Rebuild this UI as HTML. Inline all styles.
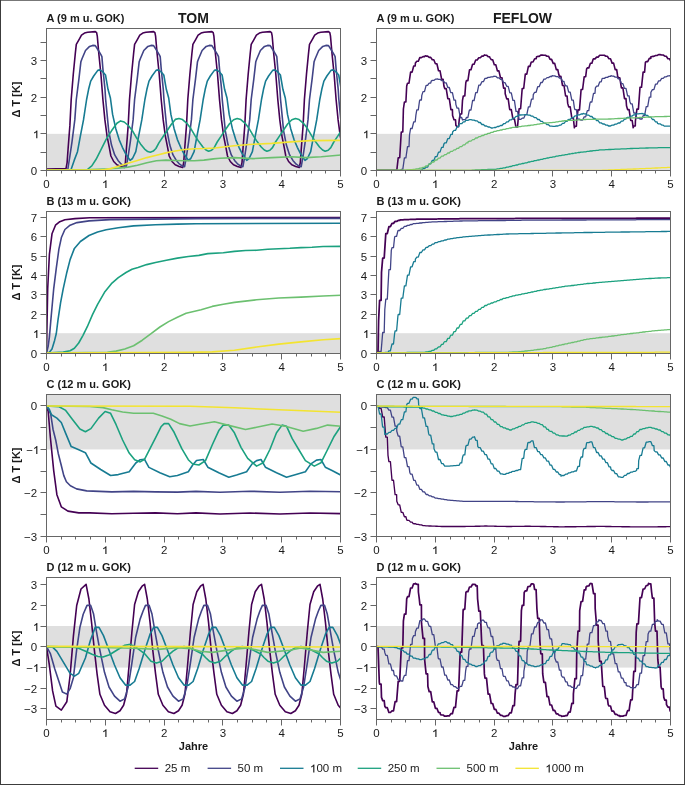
<!DOCTYPE html>
<html><head><meta charset="utf-8"><style>
html,body{margin:0;padding:0;background:#fff;}
body{width:685px;height:785px;overflow:hidden;}
svg{display:block;}

.tl{font-family:"Liberation Sans",sans-serif;font-size:11.5px;fill:#1a1a1a;}
.pl{font-family:"Liberation Sans",sans-serif;font-size:11px;font-weight:bold;fill:#1a1a1a;}
.h1{fill-opacity:0;}
.tt{font-family:"Liberation Sans",sans-serif;font-size:14px;font-weight:bold;fill:#1a1a1a;}
</style></head><body>
<svg width="685" height="785" viewBox="0 0 685 785">
<rect x="0" y="0" width="685" height="785" fill="#fff"/>
<defs>
<filter id="gf" x="0" y="0" width="685" height="785" filterUnits="userSpaceOnUse"><feOffset dx="0" dy="0"/></filter>
<clipPath id="cA0"><rect x="46.5" y="28.5" width="294.0" height="142.0"/></clipPath>
<clipPath id="cA1"><rect x="376.5" y="28.5" width="294.0" height="142.0"/></clipPath>
<clipPath id="cB0"><rect x="46.5" y="211.5" width="294.0" height="142.0"/></clipPath>
<clipPath id="cB1"><rect x="376.5" y="211.5" width="294.0" height="142.0"/></clipPath>
<clipPath id="cC0"><rect x="46.5" y="394.5" width="294.0" height="142.0"/></clipPath>
<clipPath id="cC1"><rect x="376.5" y="394.5" width="294.0" height="142.0"/></clipPath>
<clipPath id="cD0"><rect x="46.5" y="577.5" width="294.0" height="142.0"/></clipPath>
<clipPath id="cD1"><rect x="376.5" y="577.5" width="294.0" height="142.0"/></clipPath>
</defs>
<rect x="46.5" y="133.83" width="294.0" height="36.67" fill="#dfdfdf"/>
<rect x="376.5" y="133.83" width="294.0" height="36.67" fill="#dfdfdf"/>
<rect x="46.5" y="333.20" width="294.0" height="20.30" fill="#dfdfdf"/>
<rect x="376.5" y="333.20" width="294.0" height="20.30" fill="#dfdfdf"/>
<rect x="46.5" y="394.50" width="294.0" height="54.93" fill="#dfdfdf"/>
<rect x="376.5" y="394.50" width="294.0" height="54.93" fill="#dfdfdf"/>
<rect x="46.5" y="626.00" width="294.0" height="41.60" fill="#dfdfdf"/>
<rect x="376.5" y="626.00" width="294.0" height="41.60" fill="#dfdfdf"/>
<polyline clip-path="url(#cA0)" points="46.5,169.0 66.0,168.6 67.1,162.6 68.2,147.3 69.9,125.4 71.2,99.5 73.3,74.0 75.3,53.5 76.3,44.3 78.9,39.8 81.5,35.2 84.5,33.1 87.6,32.3 95.3,31.6 96.6,32.6 97.3,36.2 98.8,53.5 100.9,74.0 102.9,99.5 104.9,119.9 107.1,136.3 109.3,147.3 110.9,156.0 113.7,161.5 116.9,164.8 120.8,166.4 123.6,167.3 124.3,167.5 125.4,162.6 126.5,147.3 128.2,125.4 129.5,99.5 131.6,74.0 133.6,53.5 134.6,44.3 137.2,39.8 139.8,35.2 142.8,33.1 145.9,32.3 153.6,31.6 154.9,32.6 155.6,36.2 157.1,53.5 159.2,74.0 161.2,99.5 163.2,119.9 165.4,136.3 167.6,147.3 169.2,156.0 172.0,161.5 175.2,164.8 179.1,166.4 181.9,167.3 182.6,167.5 183.7,162.6 184.8,147.3 186.5,125.4 187.8,99.5 189.9,74.0 191.9,53.5 192.9,44.3 195.5,39.8 198.1,35.2 201.1,33.1 204.2,32.3 211.9,31.6 213.2,32.6 213.9,36.2 215.4,53.5 217.5,74.0 219.5,99.5 221.5,119.9 223.7,136.3 225.9,147.3 227.5,156.0 230.3,161.5 233.5,164.8 237.4,166.4 240.2,167.3 240.9,167.5 242.0,162.6 243.1,147.3 244.8,125.4 246.1,99.5 248.2,74.0 250.2,53.5 251.2,44.3 253.8,39.8 256.4,35.2 259.4,33.1 262.5,32.3 270.2,31.6 271.5,32.6 272.2,36.2 273.7,53.5 275.8,74.0 277.8,99.5 279.8,119.9 282.0,136.3 284.2,147.3 285.8,156.0 288.6,161.5 291.8,164.8 295.7,166.4 298.5,167.3 299.2,167.5 300.3,162.6 301.4,147.3 303.1,125.4 304.4,99.5 306.5,74.0 308.5,53.5 309.5,44.3 312.1,39.8 314.7,35.2 317.7,33.1 320.8,32.3 328.5,31.6 329.8,32.6 330.5,36.2 332.0,53.5 334.1,74.0 336.1,99.5 338.1,119.9 340.3,136.3 342.5,147.3 344.1,156.0 346.9,161.5" fill="none" stroke="#440154" stroke-width="1.6" stroke-linejoin="round" stroke-linecap="round"/>
<polyline clip-path="url(#cA0)" points="46.5,170.0 67.7,170.0 69.9,156.0 72.0,141.8 74.8,119.9 76.3,99.5 78.9,79.1 80.9,61.7 82.0,58.7 85.5,50.5 89.6,46.4 92.7,45.4 95.3,45.6 97.8,49.5 100.9,54.6 101.9,56.6 102.9,68.9 105.0,89.3 105.6,99.0 107.1,114.4 108.7,130.8 111.5,145.1 114.7,154.9 118.0,160.4 121.3,164.2 124.6,166.4 126.3,166.6 126.3,166.6 128.2,156.0 130.3,141.8 133.1,119.9 134.6,99.5 137.2,79.1 139.2,61.7 140.3,58.7 143.8,50.5 147.9,46.4 151.0,45.4 153.6,45.6 156.1,49.5 159.2,54.6 160.2,56.6 161.2,68.9 163.3,89.3 163.9,99.0 165.4,114.4 167.0,130.8 169.8,145.1 173.0,154.9 176.3,160.4 179.6,164.2 182.9,166.4 184.6,166.6 184.6,166.6 186.5,156.0 188.6,141.8 191.4,119.9 192.9,99.5 195.5,79.1 197.5,61.7 198.6,58.7 202.1,50.5 206.2,46.4 209.3,45.4 211.9,45.6 214.4,49.5 217.5,54.6 218.5,56.6 219.5,68.9 221.6,89.3 222.2,99.0 223.7,114.4 225.3,130.8 228.1,145.1 231.3,154.9 234.6,160.4 237.9,164.2 241.2,166.4 242.9,166.6 242.9,166.6 244.8,156.0 246.9,141.8 249.7,119.9 251.2,99.5 253.8,79.1 255.8,61.7 256.9,58.7 260.4,50.5 264.5,46.4 267.6,45.4 270.2,45.6 272.7,49.5 275.8,54.6 276.8,56.6 277.8,68.9 279.9,89.3 280.5,99.0 282.0,114.4 283.6,130.8 286.4,145.1 289.6,154.9 292.9,160.4 296.2,164.2 299.5,166.4 301.2,166.6 301.2,166.6 303.1,156.0 305.2,141.8 308.0,119.9 309.5,99.5 312.1,79.1 314.1,61.7 315.2,58.7 318.7,50.5 322.8,46.4 325.9,45.4 328.5,45.6 331.0,49.5 334.1,54.6 335.1,56.6 336.1,68.9 338.2,89.3 338.8,99.0 340.3,114.4 341.9,130.8 344.7,145.1 347.9,154.9" fill="none" stroke="#414487" stroke-width="1.6" stroke-linejoin="round" stroke-linecap="round"/>
<polyline clip-path="url(#cA0)" points="46.5,170.0 70.9,170.0 74.2,160.4 77.5,151.7 80.3,136.3 83.5,119.9 86.6,99.5 88.6,89.3 90.7,81.1 93.7,76.0 97.8,70.4 99.9,69.9 102.9,71.9 105.5,75.0 108.0,89.3 110.4,98.0 112.6,114.4 115.8,128.7 119.1,139.6 122.4,147.3 125.7,153.8 130.1,160.4 130.1,160.4 132.5,158.5 135.8,151.7 138.6,136.3 141.8,119.9 144.9,99.5 146.9,89.3 149.0,81.1 152.0,76.0 156.1,70.4 158.2,69.9 161.2,71.9 163.8,75.0 166.3,89.3 168.7,98.0 170.9,114.4 174.1,128.7 177.4,139.6 180.7,147.3 184.0,153.8 188.4,160.4 188.4,160.4 190.8,158.5 194.1,151.7 196.9,136.3 200.1,119.9 203.2,99.5 205.2,89.3 207.3,81.1 210.3,76.0 214.4,70.4 216.5,69.9 219.5,71.9 222.1,75.0 224.6,89.3 227.0,98.0 229.2,114.4 232.4,128.7 235.7,139.6 239.0,147.3 242.3,153.8 246.7,160.4 246.7,160.4 249.1,158.5 252.4,151.7 255.2,136.3 258.4,119.9 261.5,99.5 263.5,89.3 265.6,81.1 268.6,76.0 272.7,70.4 274.8,69.9 277.8,71.9 280.4,75.0 282.9,89.3 285.3,98.0 287.5,114.4 290.7,128.7 294.0,139.6 297.3,147.3 300.6,153.8 305.0,160.4 305.0,160.4 307.4,158.5 310.7,151.7 313.5,136.3 316.7,119.9 319.8,99.5 321.8,89.3 323.9,81.1 326.9,76.0 331.0,70.4 333.1,69.9 336.1,71.9 338.7,75.0 341.2,89.3 343.6,98.0 345.8,114.4 349.0,128.7" fill="none" stroke="#177b92" stroke-width="1.6" stroke-linejoin="round" stroke-linecap="round"/>
<polyline clip-path="url(#cA0)" points="46.5,170.0 84.0,170.0 87.4,169.5 91.8,165.9 96.1,159.3 100.5,150.6 106.0,139.6 111.5,130.8 116.9,123.2 120.6,120.9 124.2,122.0 128.3,125.5 132.4,130.7 136.5,137.8 140.5,143.9 144.6,149.1 147.7,151.6 150.3,152.3 153.3,151.1 155.9,148.5 158.9,142.9 163.0,136.8 167.1,130.7 171.2,124.5 175.3,119.4 178.9,118.5 182.5,119.6 186.6,123.1 190.7,128.3 194.8,135.4 198.8,141.6 202.9,147.0 206.0,150.0 208.6,151.2 211.6,150.2 214.2,147.6 217.2,142.0 221.3,135.9 225.4,129.8 229.5,123.8 233.6,119.8 237.2,118.5 240.8,119.6 244.9,123.1 249.0,128.3 253.1,135.4 257.1,141.6 261.2,147.0 264.3,150.0 266.9,151.2 269.9,150.2 272.5,147.6 275.5,142.0 279.6,135.9 283.7,129.8 287.8,123.8 291.9,119.8 295.5,118.5 299.1,119.6 303.2,123.1 307.3,128.3 311.4,135.4 315.4,141.6 319.5,147.0 322.6,150.0 325.2,151.2 328.2,150.2 330.8,147.6 333.8,142.0 337.9,135.9 342.0,129.8 346.1,123.8 350.2,119.8 353.8,118.5 357.4,119.6 361.5,123.1 365.6,128.3 369.7,135.4 373.7,141.6 377.8,147.0 380.9,150.0 383.5,151.2 386.5,150.2 389.1,147.6 392.1,142.0 396.2,135.9 400.3,129.8 404.4,123.8 408.5,119.8" fill="none" stroke="#1ba17f" stroke-width="1.6" stroke-linejoin="round" stroke-linecap="round"/>
<polyline clip-path="url(#cA0)" points="46.5,170.0 90.0,169.5 109.0,168.8 118.5,168.1 128.0,167.1 137.4,165.2 146.9,162.7 156.4,160.8 165.9,160.1 175.4,160.5 184.9,160.8 194.4,160.8 203.9,160.1 213.4,158.9 220.0,158.2 234.0,157.6 253.0,158.6 271.9,157.6 290.9,156.7 306.1,157.6 321.3,156.7 341.0,155.0" fill="none" stroke="#6cc070" stroke-width="1.6" stroke-linejoin="round" stroke-linecap="round"/>
<polyline clip-path="url(#cA0)" points="46.5,170.0 100.0,170.0 105.2,169.6 110.9,168.6 118.5,166.2 128.0,163.3 137.4,160.5 146.9,157.6 156.4,155.2 165.9,152.9 175.4,151.0 184.9,149.5 194.4,148.7 203.9,148.5 215.0,148.0 234.0,145.7 253.0,144.3 271.9,143.4 290.9,141.9 309.9,140.6 341.0,140.4" fill="none" stroke="#f3e430" stroke-width="1.6" stroke-linejoin="round" stroke-linecap="round"/>
<polyline clip-path="url(#cA1)" points="376.5,170.3 378.0,170.3 379.6,170.3 381.1,170.3 382.7,170.3 384.2,170.3 385.8,170.3 387.3,170.3 388.9,170.3 390.4,170.3 392.0,170.3 393.5,170.3 395.1,170.3 396.6,170.3 396.8,170.3 398.2,157.8 399.7,157.8 401.2,133.1 401.3,132.0 402.8,132.0 403.4,109.0 404.4,102.0 405.9,102.0 406.7,86.0 407.5,83.2 409.0,83.2 410.6,72.1 412.1,72.1 413.7,66.0 415.2,66.0 415.4,63.0 416.8,61.3 418.3,61.3 419.8,57.6 419.9,57.6 421.4,57.6 423.0,56.6 424.5,56.6 425.3,55.8 426.1,56.1 427.6,56.1 429.2,57.4 430.7,57.4 432.3,59.8 433.8,59.8 435.1,63.0 435.4,63.7 436.9,63.7 438.5,70.7 440.0,70.7 441.6,79.2 443.1,79.2 443.9,86.0 444.7,88.6 446.2,88.6 447.8,98.7 449.3,98.7 450.9,109.6 452.4,109.6 452.6,115.6 454.0,119.8 455.5,119.8 455.9,125.4 457.1,126.6 458.6,126.6 459.2,120.0 460.2,114.0 461.7,114.0 462.5,100.3 463.3,96.0 464.8,96.0 465.8,82.7 466.4,80.6 467.9,80.6 469.5,69.8 471.0,69.8 472.6,64.2 474.1,64.2 475.7,60.0 477.2,60.0 478.8,57.7 480.3,57.7 481.9,56.1 483.4,56.1 484.4,54.9 485.0,55.2 486.5,55.2 488.1,56.7 489.6,56.7 489.9,57.6 491.2,59.7 492.7,59.7 494.3,64.7 495.8,64.7 497.4,70.9 498.9,70.9 500.5,77.7 502.0,77.7 503.6,88.1 505.1,88.1 505.2,93.7 506.7,98.9 508.2,98.9 509.6,109.0 509.8,109.6 511.3,109.6 512.9,118.9 514.4,118.9 516.0,127.3 517.5,127.3 519.1,108.7 520.6,108.7 522.2,88.5 523.7,88.5 525.3,74.1 526.8,74.1 528.4,66.4 529.9,66.4 531.1,62.4 531.5,62.0 533.0,62.0 534.6,58.8 536.1,58.8 536.6,56.8 537.7,56.4 539.2,56.4 540.8,55.1 542.3,55.1 543.9,55.2 545.4,55.2 547.0,56.2 548.5,56.2 550.1,59.4 551.6,59.4 553.2,63.4 554.7,63.4 556.3,69.6 557.8,69.6 558.8,74.6 559.4,76.4 560.9,76.4 562.5,85.5 564.0,85.5 565.6,96.0 567.1,96.0 567.7,103.4 568.7,106.9 570.2,106.9 571.8,117.9 573.3,117.9 574.4,127.8 574.9,126.3 576.4,126.3 576.6,121.2 578.0,109.9 579.5,109.9 581.1,89.5 582.6,89.5 584.2,76.7 585.7,76.7 586.6,69.0 587.3,67.9 588.8,67.9 590.4,63.3 591.9,63.3 593.2,59.1 593.5,58.9 595.0,58.9 596.6,57.1 598.1,57.1 599.7,55.3 601.2,55.3 602.8,55.2 604.3,55.2 605.9,56.2 607.4,56.2 607.6,56.8 609.0,58.8 610.5,58.8 612.1,63.1 613.6,63.1 615.2,69.6 616.7,69.6 617.6,75.7 618.3,77.9 619.8,77.9 621.4,87.9 622.9,87.9 624.5,98.6 626.0,98.6 626.5,105.7 627.6,109.6 629.1,109.6 630.7,120.5 632.2,120.5 633.2,127.8 633.8,126.0 635.3,126.0 635.4,121.2 636.9,109.1 638.4,109.1 640.0,87.3 641.5,87.3 643.1,72.1 644.6,72.1 645.4,62.4 646.2,61.6 647.7,61.6 649.3,58.4 650.8,58.4 650.9,56.8 652.4,56.4 653.9,56.4 655.5,55.5 657.0,55.5 658.6,54.6 660.1,54.6 661.7,55.0 663.2,55.0 664.8,56.2 666.3,56.2 667.9,58.7 669.4,58.7 671.0,61.5 671.0,61.5" fill="none" stroke="#440154" stroke-width="1.6" stroke-linejoin="round" stroke-linecap="round"/>
<polyline clip-path="url(#cA1)" points="376.5,170.3 378.0,170.3 379.6,170.3 381.1,170.3 382.7,170.3 384.2,170.3 385.8,170.3 387.3,170.3 388.9,170.3 390.4,170.3 392.0,170.3 393.5,170.3 395.1,170.3 396.6,170.3 398.2,170.3 399.7,170.3 400.5,170.3 401.3,169.4 402.8,169.4 404.4,157.9 405.9,157.9 407.5,146.7 407.5,146.7 409.0,146.7 409.5,135.0 410.6,128.5 412.1,128.5 413.7,121.8 415.2,121.8 415.9,115.1 416.8,109.8 418.3,109.8 419.5,101.0 419.9,100.0 421.4,100.0 421.8,95.4 423.0,91.6 424.5,91.6 426.1,85.3 427.6,85.3 428.9,83.4 429.2,83.1 430.7,83.1 431.2,81.1 432.3,80.4 433.8,80.4 435.4,79.2 436.9,79.2 437.3,78.8 438.5,79.3 440.0,79.3 441.6,80.6 443.1,80.6 443.9,81.6 444.7,82.8 446.2,82.8 447.8,87.5 449.3,87.5 450.4,91.5 450.9,92.7 452.4,92.7 454.0,100.1 455.5,100.1 455.9,104.6 457.1,108.2 458.6,108.2 460.2,117.5 461.7,117.5 462.5,120.0 463.3,119.7 464.8,119.7 465.8,118.9 466.4,117.5 467.9,117.5 469.1,111.2 469.5,110.0 471.0,110.0 472.6,100.5 474.1,100.5 475.7,92.6 477.2,92.6 478.8,85.1 480.3,85.1 481.9,81.7 483.4,81.7 485.0,78.4 486.5,78.4 488.1,77.4 489.6,77.4 491.2,76.8 492.7,76.8 494.2,76.2 494.3,76.3 495.8,76.3 497.4,77.8 498.9,77.8 500.5,79.4 502.0,79.4 503.6,82.7 505.1,82.7 506.7,86.3 508.2,86.3 509.8,92.9 511.3,92.9 512.9,100.3 512.9,100.3 514.4,100.3 516.0,111.3 517.5,111.3 519.1,119.4 520.6,119.4 522.2,118.2 523.7,118.2 524.4,116.8 525.3,114.6 526.8,114.6 528.4,106.9 529.9,106.9 531.5,99.1 533.0,99.1 533.3,94.6 534.6,92.3 536.1,92.3 537.7,86.7 539.2,86.7 540.8,82.5 542.3,82.5 543.9,79.1 545.4,79.1 547.0,77.6 548.5,77.6 550.1,76.5 551.6,76.5 552.2,75.7 553.2,75.9 554.7,75.9 556.3,76.7 557.8,76.7 558.8,77.3 559.4,78.0 560.9,78.0 562.5,81.4 564.0,81.4 564.4,83.5 565.6,85.9 567.1,85.9 568.7,92.2 570.2,92.2 571.8,100.2 573.3,100.2 574.4,107.9 574.9,109.6 576.4,109.6 577.7,119.0 578.0,119.1 579.5,119.1 581.0,120.1 581.1,120.0 582.6,120.0 584.2,116.9 585.7,116.9 587.3,110.6 588.8,110.6 589.9,103.4 590.4,102.0 591.9,102.0 593.5,93.3 595.0,93.3 595.4,87.9 596.6,86.2 598.1,86.2 599.7,81.9 601.2,81.9 602.1,78.6 602.8,78.4 604.3,78.4 605.9,77.4 607.4,77.4 609.0,76.4 610.5,76.4 611.0,75.7 612.1,76.1 613.6,76.1 615.2,77.1 616.7,77.1 617.6,77.9 618.3,78.9 619.8,78.9 621.4,83.6 622.9,83.6 624.3,87.9 624.5,88.4 626.0,88.4 627.6,95.9 629.1,95.9 629.8,101.2 630.7,103.9 632.2,103.9 633.8,113.0 635.3,113.0 636.9,118.0 638.4,118.0 640.0,119.0 641.5,119.0 642.0,119.0 643.1,115.7 644.6,115.7 646.2,106.6 647.7,106.6 649.3,97.2 650.8,97.2 650.9,92.3 652.4,89.6 653.9,89.6 655.5,84.2 657.0,84.2 658.6,80.8 660.1,80.8 661.7,78.4 663.2,78.4 664.8,76.8 666.3,76.8 667.9,75.9 669.4,75.9 671.0,75.0 671.0,75.0" fill="none" stroke="#414487" stroke-width="1.3" stroke-linejoin="round" stroke-linecap="round"/>
<polyline clip-path="url(#cA1)" points="376.5,170.3 378.0,170.3 379.6,170.3 381.1,170.3 382.7,170.3 384.2,170.3 385.8,170.3 387.3,170.3 388.9,170.3 390.4,170.3 392.0,170.3 393.5,170.3 395.1,170.3 396.6,170.3 398.2,170.3 399.7,170.3 401.3,170.3 402.8,170.3 404.4,170.3 405.9,170.3 407.5,170.3 409.0,170.3 410.6,170.3 412.1,170.3 413.7,170.3 415.2,170.3 416.8,170.3 418.3,170.3 419.8,170.3 419.9,170.2 421.4,170.2 423.0,168.7 424.5,168.7 426.1,167.1 427.6,167.1 429.2,163.8 430.7,163.8 432.3,160.4 433.8,160.4 435.1,157.2 435.4,156.7 436.9,156.7 438.5,152.1 440.0,152.1 441.6,147.4 443.1,147.4 443.9,144.0 444.7,142.9 446.2,142.9 447.8,138.6 449.3,138.6 450.9,134.3 452.4,134.3 452.6,132.0 454.0,130.4 455.5,130.4 457.1,126.7 458.6,126.7 459.2,124.3 460.2,123.7 461.7,123.7 463.3,121.9 464.8,121.9 465.8,120.4 466.4,120.3 467.9,120.3 469.5,119.6 471.0,119.6 472.6,120.1 474.1,120.1 475.7,120.9 477.2,120.9 478.8,122.5 480.3,122.5 481.9,124.5 483.4,124.5 485.0,126.0 486.5,126.0 488.1,127.0 489.6,127.0 491.2,128.0 492.7,128.0 494.3,127.5 495.8,127.5 497.4,126.5 498.9,126.5 500.5,125.5 502.0,125.5 503.6,123.7 505.1,123.7 506.7,121.8 508.2,121.8 509.6,120.0 509.8,119.9 511.3,119.9 512.9,118.1 514.4,118.1 516.0,116.4 517.5,116.4 518.3,115.1 519.1,115.0 520.6,115.0 522.2,114.8 523.7,114.8 525.3,114.6 526.8,114.6 528.4,115.1 529.9,115.1 531.5,116.2 533.0,116.2 533.3,116.8 534.6,117.6 536.1,117.6 537.7,119.5 539.2,119.5 540.8,121.4 542.3,121.4 543.9,123.1 545.4,123.1 547.0,124.7 548.5,124.7 550.1,126.2 551.6,126.2 553.2,126.4 554.7,126.4 556.3,126.0 557.8,126.0 558.8,125.6 559.4,125.2 560.9,125.2 562.5,123.3 564.0,123.3 565.6,121.4 567.1,121.4 567.7,120.1 568.7,119.5 570.2,119.5 571.8,117.7 573.3,117.7 574.9,115.9 576.4,115.9 578.0,114.9 579.5,114.9 581.1,114.0 582.6,114.0 583.2,113.4 584.2,113.8 585.7,113.8 587.3,115.2 588.8,115.2 590.4,116.5 591.9,116.5 593.5,118.5 595.0,118.5 596.6,120.7 598.1,120.7 599.7,122.9 601.2,122.9 602.8,124.0 604.3,124.0 605.9,125.1 607.4,125.1 608.8,126.1 609.0,126.0 610.5,126.0 612.1,125.1 613.6,125.1 615.2,124.1 616.7,124.1 617.6,123.4 618.3,123.0 619.8,123.0 621.4,121.1 622.9,121.1 624.5,119.1 626.0,119.1 626.5,117.9 627.6,117.4 629.1,117.4 630.7,116.1 632.2,116.1 633.8,114.8 635.3,114.8 635.4,114.1 636.9,113.9 638.4,113.9 640.0,113.6 641.5,113.6 642.0,113.4 643.1,114.0 644.6,114.0 646.2,115.5 647.7,115.5 648.7,116.8 649.3,117.2 650.8,117.2 652.4,119.5 653.9,119.5 655.5,121.8 657.0,121.8 657.6,123.4 658.6,123.8 660.1,123.8 661.7,125.1 663.2,125.1 664.2,126.1 664.8,126.1 666.3,126.1 667.9,126.1 669.4,126.1 671.0,126.1 671.0,126.1" fill="none" stroke="#177b92" stroke-width="1.3" stroke-linejoin="round" stroke-linecap="round"/>
<polyline clip-path="url(#cA1)" points="376.5,170.3 378.0,170.3 379.6,170.3 381.1,170.3 382.7,170.3 384.2,170.3 385.8,170.3 387.3,170.3 388.9,170.3 390.4,170.3 392.0,170.3 393.5,170.3 395.1,170.3 396.6,170.3 398.2,170.3 399.7,170.3 401.3,170.3 402.8,170.3 404.4,170.3 405.9,170.3 407.5,170.3 409.0,170.3 410.6,170.3 412.1,170.3 413.7,170.3 415.2,170.3 416.8,170.3 418.3,170.3 419.9,170.3 421.4,170.3 423.0,170.3 424.5,170.3 426.1,170.3 427.6,170.3 429.2,170.3 430.7,170.3 432.3,170.3 433.8,170.3 435.4,170.3 436.9,170.3 438.5,170.3 440.0,170.3 441.6,170.3 443.1,170.3 444.7,170.3 446.2,170.3 447.8,170.3 449.3,170.3 450.9,170.3 452.4,170.3 454.0,170.3 455.5,170.3 457.1,170.3 458.6,170.3 460.2,170.3 461.7,170.3 463.3,170.3 464.8,170.3 466.4,170.3 467.9,170.3 469.5,170.3 471.0,170.3 472.6,170.2 474.1,170.2 475.7,170.0 477.2,170.0 478.8,169.8 480.3,169.8 481.9,169.7 483.4,169.7 485.0,169.6 486.5,169.6 488.1,169.5 489.6,169.5 491.2,169.4 492.7,169.4 494.3,169.3 495.8,169.3 497.4,168.9 498.9,168.9 500.5,168.4 502.0,168.4 503.6,167.9 505.1,167.9 506.7,167.2 508.2,167.2 509.8,166.5 511.3,166.5 512.9,165.7 514.4,165.7 516.0,165.0 517.5,165.0 519.1,164.2 520.6,164.2 522.2,163.5 523.7,163.5 525.3,162.8 526.8,162.8 528.4,162.0 529.9,162.0 531.5,161.3 533.0,161.3 534.6,160.6 536.1,160.6 537.7,160.0 539.2,160.0 540.8,159.3 542.3,159.3 543.9,158.7 545.4,158.7 547.0,158.0 548.5,158.0 550.1,157.4 551.6,157.4 553.2,156.8 554.7,156.8 556.3,156.2 557.8,156.2 559.4,155.7 560.9,155.7 562.5,155.1 564.0,155.1 565.6,154.6 567.1,154.6 568.7,154.0 570.2,154.0 571.8,153.5 573.3,153.5 574.9,153.0 576.4,153.0 578.0,152.5 579.5,152.5 581.1,152.1 582.6,152.1 584.2,151.8 585.7,151.8 587.3,151.4 588.8,151.4 590.4,151.0 591.9,151.0 593.5,150.7 595.0,150.7 596.6,150.3 598.1,150.3 599.7,149.9 601.2,149.9 602.8,149.8 604.3,149.8 605.9,149.6 607.4,149.6 609.0,149.5 610.5,149.5 612.1,149.4 613.6,149.4 615.2,149.2 616.7,149.2 618.3,149.1 619.8,149.1 621.4,148.9 622.9,148.9 624.5,148.8 626.0,148.8 627.6,148.6 629.1,148.6 630.7,148.5 632.2,148.5 633.8,148.4 635.3,148.4 636.9,148.3 638.4,148.3 640.0,148.2 641.5,148.2 643.1,148.1 644.6,148.1 646.2,148.0 647.7,148.0 649.3,147.9 650.8,147.9 652.4,147.8 653.9,147.8 655.5,147.8 657.0,147.8 658.6,147.7 660.1,147.7 661.7,147.7 663.2,147.7 664.8,147.7 666.3,147.7 667.9,147.6 669.4,147.6 671.0,147.6 671.0,147.6" fill="none" stroke="#1ba17f" stroke-width="1.3" stroke-linejoin="round" stroke-linecap="round"/>
<polyline clip-path="url(#cA1)" points="376.5,170.3 378.0,170.3 379.6,170.3 381.1,170.3 382.7,170.3 384.2,170.3 385.8,170.3 387.3,170.3 388.9,170.3 390.4,170.3 392.0,170.3 393.5,170.3 395.1,170.3 396.6,170.3 398.2,170.3 399.7,170.3 401.3,170.3 402.8,170.3 404.4,170.3 405.9,170.3 407.5,170.0 409.0,170.0 410.6,169.7 412.1,169.7 413.7,169.4 415.2,169.4 415.4,169.2 416.8,168.8 418.3,168.8 419.9,168.1 421.4,168.1 423.0,167.3 424.5,167.3 426.1,165.8 427.6,165.8 429.2,163.9 430.7,163.9 432.3,162.0 433.8,162.0 435.4,160.0 436.9,160.0 438.5,158.1 440.0,158.1 441.6,156.2 443.1,156.2 444.7,154.6 446.2,154.6 447.8,153.0 449.3,153.0 450.4,151.7 450.9,151.4 452.4,151.4 454.0,149.9 455.5,149.9 457.1,148.3 458.6,148.3 459.2,147.3 460.2,146.7 461.7,146.7 463.3,144.8 464.8,144.8 466.4,142.9 467.9,142.9 468.0,141.9 469.5,141.1 471.0,141.1 472.6,139.6 474.1,139.6 475.7,138.0 477.2,138.0 478.8,136.7 480.3,136.7 481.9,135.5 483.4,135.5 485.0,134.4 486.5,134.4 488.1,133.4 489.6,133.4 491.2,132.4 492.7,132.4 494.2,131.4 494.3,131.4 495.8,131.4 497.4,130.7 498.9,130.7 500.5,130.0 502.0,130.0 503.0,129.4 503.6,129.3 505.1,129.3 506.7,128.6 508.2,128.6 509.8,128.0 511.3,128.0 511.8,127.6 512.9,127.4 514.4,127.4 516.0,127.0 517.5,127.0 519.1,126.6 520.6,126.6 522.2,126.2 523.7,126.2 525.3,125.9 526.8,125.9 528.4,125.5 529.9,125.5 531.1,125.2 531.5,125.1 533.0,125.1 534.6,124.6 536.1,124.6 537.7,124.1 539.2,124.1 540.8,123.6 542.3,123.6 543.9,123.2 545.4,123.2 547.0,122.9 548.5,122.9 550.1,122.6 551.6,122.6 553.2,122.3 554.7,122.3 556.3,121.9 557.8,121.9 559.4,121.4 560.9,121.4 562.5,121.0 564.0,121.0 564.4,120.7 565.6,120.6 567.1,120.6 568.7,120.4 570.2,120.4 571.8,120.3 573.3,120.3 574.9,120.1 576.4,120.1 578.0,119.9 579.5,119.9 581.1,119.7 582.6,119.7 584.2,119.5 585.7,119.5 586.6,119.4 587.3,119.4 588.8,119.4 590.4,119.3 591.9,119.3 593.5,119.3 595.0,119.3 596.6,119.2 598.1,119.2 599.7,119.2 601.2,119.2 602.8,119.1 604.3,119.1 605.9,119.1 607.4,119.1 608.8,119.0 609.0,119.0 610.5,119.0 612.1,118.8 613.6,118.8 615.2,118.7 616.7,118.7 618.3,118.5 619.8,118.5 621.4,118.4 622.9,118.4 624.5,118.2 626.0,118.2 627.6,118.1 629.1,118.1 630.7,117.9 632.2,117.9 633.8,117.8 635.3,117.8 636.9,117.6 638.4,117.6 640.0,117.4 641.5,117.4 643.1,117.3 644.6,117.3 646.2,117.1 647.7,117.1 649.3,117.0 650.8,117.0 652.4,116.8 653.9,116.8 655.5,116.7 657.0,116.7 658.6,116.6 660.1,116.6 661.7,116.6 663.2,116.6 664.8,116.5 666.3,116.5 667.9,116.4 669.4,116.4 671.0,116.3 671.0,116.3" fill="none" stroke="#6cc070" stroke-width="1.3" stroke-linejoin="round" stroke-linecap="round"/>
<polyline clip-path="url(#cA1)" points="376.5,170.3 378.0,170.3 379.6,170.3 381.1,170.3 382.7,170.3 384.2,170.3 385.8,170.3 387.3,170.3 388.9,170.3 390.4,170.3 392.0,170.3 393.5,170.3 395.1,170.3 396.6,170.3 398.2,170.3 399.7,170.3 401.3,170.3 402.8,170.3 404.4,170.3 405.9,170.3 407.5,170.3 409.0,170.3 410.6,170.3 412.1,170.3 413.7,170.3 415.2,170.3 416.8,170.3 418.3,170.3 419.9,170.3 421.4,170.3 423.0,170.3 424.5,170.3 426.1,170.3 427.6,170.3 429.2,170.3 430.7,170.3 432.3,170.3 433.8,170.3 435.4,170.3 436.9,170.3 438.5,170.3 440.0,170.3 441.6,170.3 443.1,170.3 444.7,170.3 446.2,170.3 447.8,170.3 449.3,170.3 450.9,170.3 452.4,170.3 454.0,170.3 455.5,170.3 457.1,170.3 458.6,170.3 460.2,170.3 461.7,170.3 463.3,170.3 464.8,170.3 466.4,170.3 467.9,170.3 469.5,170.3 471.0,170.3 472.6,170.3 474.1,170.3 475.7,170.3 477.2,170.3 478.8,170.3 480.3,170.3 481.9,170.3 483.4,170.3 485.0,170.3 486.5,170.3 488.1,170.3 489.6,170.3 491.2,170.3 492.7,170.3 494.3,170.3 495.8,170.3 497.4,170.3 498.9,170.3 500.5,170.3 502.0,170.3 503.6,170.3 505.1,170.3 506.7,170.3 508.2,170.3 509.8,170.3 511.3,170.3 512.9,170.3 514.4,170.3 516.0,170.3 517.5,170.3 519.1,170.3 520.6,170.3 522.2,170.3 523.7,170.3 525.3,170.3 526.8,170.3 528.4,170.3 529.9,170.3 531.5,170.3 533.0,170.3 534.6,170.3 536.1,170.3 537.7,170.3 539.2,170.3 540.8,170.3 542.3,170.3 543.9,170.3 545.4,170.3 547.0,170.3 548.5,170.3 550.1,170.3 551.6,170.3 553.2,170.3 554.7,170.3 556.3,170.3 557.8,170.3 559.4,170.3 560.9,170.3 562.5,170.3 564.0,170.3 565.6,170.3 567.1,170.3 568.7,170.3 570.2,170.3 571.8,170.3 573.3,170.3 574.9,170.3 576.4,170.3 578.0,170.3 579.5,170.3 581.1,170.3 582.6,170.3 584.2,170.3 585.7,170.3 587.3,170.3 588.8,170.3 590.4,170.3 591.9,170.3 593.5,170.3 595.0,170.3 596.6,170.3 598.1,170.3 599.7,170.3 601.2,170.3 602.8,170.2 604.3,170.2 605.9,170.1 607.4,170.1 609.0,170.0 610.5,170.0 612.1,169.8 613.6,169.8 615.2,169.7 616.7,169.7 618.3,169.6 619.8,169.6 621.4,169.5 622.9,169.5 624.5,169.3 626.0,169.3 627.6,169.2 629.1,169.2 630.7,169.1 632.2,169.1 633.8,169.0 635.3,169.0 636.9,168.8 638.4,168.8 640.0,168.7 641.5,168.7 643.1,168.6 644.6,168.6 646.2,168.4 647.7,168.4 649.3,168.3 650.8,168.3 652.4,168.1 653.9,168.1 655.5,168.0 657.0,168.0 658.6,167.9 660.1,167.9 661.7,167.7 663.2,167.7 664.8,167.6 666.3,167.6 667.9,167.4 669.4,167.4 671.0,167.3 671.0,167.3" fill="none" stroke="#f3e430" stroke-width="1.3" stroke-linejoin="round" stroke-linecap="round"/>
<polyline clip-path="url(#cB0)" points="46.5,353.0 46.9,330.0 47.7,288.8 49.4,254.4 52.0,233.8 55.5,225.2 59.8,221.7 64.9,219.8 75.0,218.6 89.8,217.8 341.0,217.6" fill="none" stroke="#440154" stroke-width="1.6" stroke-linejoin="round" stroke-linecap="round"/>
<polyline clip-path="url(#cB0)" points="46.5,353.0 48.2,346.0 49.4,337.0 51.2,316.3 53.7,288.8 56.3,268.2 58.9,249.2 61.5,237.2 64.9,229.5 70.1,225.2 77.0,222.6 89.0,220.9 110.0,219.6 196.0,218.6 341.0,218.4" fill="none" stroke="#414487" stroke-width="1.6" stroke-linejoin="round" stroke-linecap="round"/>
<polyline clip-path="url(#cB0)" points="46.5,353.0 49.4,352.3 52.0,349.0 54.6,340.4 56.3,333.5 58.0,319.8 60.6,302.6 63.2,288.8 66.6,273.3 70.1,259.6 74.4,248.4 80.4,241.5 89.0,235.5 97.6,232.0 106.2,229.8 118.3,227.7 133.6,225.9 155.5,224.8 177.4,224.1 196.0,223.7 341.0,223.2" fill="none" stroke="#177b92" stroke-width="1.6" stroke-linejoin="round" stroke-linecap="round"/>
<polyline clip-path="url(#cB0)" points="46.5,353.0 63.2,352.1 70.1,350.8 74.4,348.2 78.7,343.0 83.0,335.3 87.3,326.7 92.5,314.6 97.6,304.3 104.5,292.3 111.4,283.7 118.3,277.6 126.0,272.5 132.0,269.3 138.0,267.5 146.7,264.6 155.5,262.5 166.4,260.3 177.4,258.1 188.3,256.5 198.9,255.4 207.8,253.6 223.3,252.7 234.4,251.4 245.5,250.5 256.6,250.3 267.7,249.2 278.8,248.7 289.8,248.3 300.9,247.6 312.0,247.2 323.1,246.5 341.0,246.4" fill="none" stroke="#1ba17f" stroke-width="1.6" stroke-linejoin="round" stroke-linecap="round"/>
<polyline clip-path="url(#cB0)" points="46.5,353.0 107.3,352.4 116.1,351.1 124.8,349.0 133.6,345.7 142.3,340.2 151.1,333.6 159.9,327.0 168.6,321.6 177.4,317.2 186.1,313.2 201.1,309.7 212.2,306.4 223.3,304.2 234.4,302.4 256.6,299.8 278.8,298.0 300.9,297.1 323.1,296.0 341.0,295.3" fill="none" stroke="#6cc070" stroke-width="1.6" stroke-linejoin="round" stroke-linecap="round"/>
<polyline clip-path="url(#cB0)" points="46.5,353.0 190.0,352.4 212.2,351.9 234.4,350.3 256.6,347.0 278.8,344.1 300.9,341.9 323.1,339.7 341.0,338.6" fill="none" stroke="#f3e430" stroke-width="1.6" stroke-linejoin="round" stroke-linecap="round"/>
<polyline clip-path="url(#cB1)" points="376.5,353.0 378.0,353.0 378.6,320.5 379.6,300.3 381.1,300.3 381.5,272.3 382.7,258.0 384.2,258.0 385.8,233.5 387.3,233.5 388.9,226.7 390.4,226.7 392.0,223.4 393.5,223.4 395.1,221.4 396.6,221.4 398.2,220.4 399.7,220.4 400.1,219.8 401.3,219.8 402.8,219.8 404.4,219.6 405.9,219.6 407.5,219.5 409.0,219.5 410.6,219.4 412.1,219.4 413.7,219.3 415.2,219.3 416.8,219.2 418.3,219.2 419.8,219.1 419.9,219.1 421.4,219.1 423.0,219.1 424.5,219.1 426.1,219.0 427.6,219.0 429.2,219.0 430.7,219.0 432.3,219.0 433.8,219.0 435.4,219.0 436.9,219.0 438.5,218.9 440.0,218.9 441.6,218.9 443.1,218.9 444.7,218.9 446.2,218.9 447.8,218.8 449.3,218.8 450.9,218.8 452.4,218.8 454.0,218.8 455.5,218.8 457.1,218.8 458.6,218.8 460.2,218.7 461.7,218.7 463.3,218.7 464.8,218.7 466.4,218.7 467.9,218.7 469.5,218.7 471.0,218.7 472.6,218.7 474.1,218.7 475.7,218.6 477.2,218.6 478.8,218.6 480.3,218.6 481.9,218.6 483.4,218.6 485.0,218.6 486.5,218.6 488.1,218.6 489.6,218.6 491.2,218.6 492.7,218.6 494.3,218.6 495.8,218.6 497.4,218.5 498.9,218.5 500.5,218.5 502.0,218.5 503.6,218.5 505.1,218.5 506.7,218.5 508.2,218.5 509.8,218.5 511.3,218.5 512.9,218.5 514.4,218.5 516.0,218.4 517.5,218.4 519.1,218.4 520.6,218.4 522.2,218.4 523.7,218.4 525.3,218.4 526.8,218.4 528.4,218.4 529.9,218.4 531.5,218.4 533.0,218.4 534.6,218.4 536.1,218.4 537.7,218.4 539.2,218.4 540.8,218.4 542.3,218.4 543.9,218.4 545.4,218.4 547.0,218.4 548.5,218.4 550.1,218.4 551.6,218.4 553.2,218.4 554.7,218.4 556.3,218.4 557.8,218.4 559.4,218.4 560.9,218.4 562.5,218.3 564.0,218.3 565.6,218.3 567.1,218.3 568.7,218.3 570.2,218.3 571.8,218.3 573.3,218.3 574.9,218.3 576.4,218.3 578.0,218.3 579.5,218.3 581.1,218.3 582.6,218.3 584.2,218.3 585.7,218.3 587.3,218.3 588.8,218.3 590.4,218.3 591.9,218.3 593.5,218.3 595.0,218.3 596.6,218.3 598.1,218.3 599.7,218.3 601.2,218.3 602.8,218.3 604.3,218.3 605.9,218.3 607.4,218.3 609.0,218.3 610.5,218.3 612.1,218.3 613.6,218.3 615.2,218.3 616.7,218.3 618.3,218.3 619.8,218.3 621.4,218.3 622.9,218.3 624.5,218.3 626.0,218.3 627.6,218.3 629.1,218.3 630.7,218.3 632.2,218.3 633.8,218.3 635.3,218.3 636.9,218.2 638.4,218.2 640.0,218.2 641.5,218.2 643.1,218.2 644.6,218.2 646.2,218.2 647.7,218.2 649.3,218.2 650.8,218.2 652.4,218.2 653.9,218.2 655.5,218.2 657.0,218.2 658.6,218.2 660.1,218.2 661.7,218.2 663.2,218.2 664.8,218.2 666.3,218.2 667.9,218.2 669.4,218.2 671.0,218.2 671.0,218.2" fill="none" stroke="#440154" stroke-width="1.75" stroke-linejoin="round" stroke-linecap="round"/>
<polyline clip-path="url(#cB1)" points="376.5,353.0 378.0,353.0 379.6,351.5 381.1,351.5 382.6,333.6 382.7,332.5 384.2,332.5 384.8,309.5 385.8,299.1 387.3,299.1 388.9,269.7 390.4,269.7 391.3,250.4 392.0,247.6 393.5,247.6 394.6,237.3 395.1,236.3 396.6,236.3 397.9,230.7 398.2,230.5 399.7,230.5 401.3,228.4 402.8,228.4 404.4,226.4 405.9,226.4 407.5,225.4 409.0,225.4 410.6,224.5 412.1,224.5 413.2,223.7 413.7,223.6 415.2,223.6 416.8,223.3 418.3,223.3 419.9,223.0 421.4,223.0 423.0,222.7 424.5,222.7 426.1,222.4 427.6,222.4 429.2,222.1 430.7,222.1 432.3,221.9 433.8,221.9 435.4,221.8 436.9,221.8 438.5,221.7 440.0,221.7 441.6,221.6 443.1,221.6 444.7,221.5 446.2,221.5 447.8,221.4 449.3,221.4 450.9,221.3 452.4,221.3 454.0,221.2 455.5,221.2 457.1,221.1 458.6,221.1 460.2,221.0 461.7,221.0 463.3,220.9 464.8,220.9 466.4,220.9 467.9,220.9 469.5,220.8 471.0,220.8 472.6,220.8 474.1,220.8 475.7,220.8 477.2,220.8 478.8,220.7 480.3,220.7 481.9,220.7 483.4,220.7 485.0,220.7 486.5,220.7 488.1,220.6 489.6,220.6 491.2,220.6 492.7,220.6 494.3,220.6 495.8,220.6 497.4,220.5 498.9,220.5 500.5,220.5 502.0,220.5 503.6,220.5 505.1,220.5 506.7,220.4 508.2,220.4 509.8,220.4 511.3,220.4 512.9,220.3 514.4,220.3 516.0,220.3 517.5,220.3 519.1,220.3 520.6,220.3 522.2,220.2 523.7,220.2 525.3,220.2 526.8,220.2 528.4,220.2 529.9,220.2 531.5,220.2 533.0,220.2 534.6,220.2 536.1,220.2 537.7,220.2 539.2,220.2 540.8,220.1 542.3,220.1 543.9,220.1 545.4,220.1 547.0,220.1 548.5,220.1 550.1,220.1 551.6,220.1 553.2,220.1 554.7,220.1 556.3,220.1 557.8,220.1 559.4,220.1 560.9,220.1 562.5,220.0 564.0,220.0 565.6,220.0 567.1,220.0 568.7,220.0 570.2,220.0 571.8,220.0 573.3,220.0 574.9,220.0 576.4,220.0 578.0,220.0 579.5,220.0 581.1,220.0 582.6,220.0 584.2,220.0 585.7,220.0 587.3,219.9 588.8,219.9 590.4,219.9 591.9,219.9 593.5,219.9 595.0,219.9 596.6,219.9 598.1,219.9 599.7,219.9 601.2,219.9 602.8,219.9 604.3,219.9 605.9,219.9 607.4,219.9 609.0,219.9 610.5,219.9 612.1,219.8 613.6,219.8 615.2,219.8 616.7,219.8 618.3,219.8 619.8,219.8 621.4,219.8 622.9,219.8 624.5,219.8 626.0,219.8 627.6,219.8 629.1,219.8 630.7,219.8 632.2,219.8 633.8,219.8 635.3,219.8 636.9,219.7 638.4,219.7 640.0,219.7 641.5,219.7 643.1,219.7 644.6,219.7 646.2,219.7 647.7,219.7 649.3,219.7 650.8,219.7 652.4,219.7 653.9,219.7 655.5,219.7 657.0,219.7 658.6,219.7 660.1,219.7 661.7,219.6 663.2,219.6 664.8,219.6 666.3,219.6 667.9,219.6 669.4,219.6 671.0,219.6 671.0,219.6" fill="none" stroke="#414487" stroke-width="1.3" stroke-linejoin="round" stroke-linecap="round"/>
<polyline clip-path="url(#cB1)" points="376.5,353.0 378.0,353.0 379.6,352.8 381.1,352.8 382.7,352.6 384.2,352.6 385.8,352.4 387.3,352.4 388.0,352.3 388.9,350.8 390.4,350.8 391.3,346.8 392.0,344.0 393.5,344.0 394.6,333.6 395.1,330.9 396.6,330.9 397.9,316.1 398.2,314.5 399.7,314.5 401.2,298.6 401.3,298.2 402.8,298.2 404.4,285.8 405.9,285.8 407.5,275.2 409.0,275.2 410.6,266.8 412.1,266.8 413.7,261.7 415.2,261.7 415.4,259.2 416.8,257.1 418.3,257.1 419.8,252.6 419.9,252.5 421.4,252.5 423.0,249.9 424.5,249.9 426.1,247.3 427.6,247.3 429.2,245.7 430.7,245.7 432.3,244.1 433.8,244.1 435.1,242.7 435.4,242.6 436.9,242.6 438.5,241.7 440.0,241.7 441.6,240.9 443.1,240.9 444.7,240.0 446.2,240.0 447.8,239.1 449.3,239.1 450.9,238.6 452.4,238.6 454.0,238.2 455.5,238.2 457.1,237.7 458.6,237.7 460.2,237.3 461.7,237.3 463.3,236.8 464.8,236.8 466.4,236.6 467.9,236.6 469.5,236.3 471.0,236.3 472.6,236.1 474.1,236.1 475.7,235.9 477.2,235.9 478.8,235.6 480.3,235.6 481.9,235.4 483.4,235.4 485.0,235.1 486.5,235.1 488.1,235.0 489.6,235.0 491.2,234.8 492.7,234.8 494.3,234.7 495.8,234.7 497.4,234.5 498.9,234.5 500.5,234.3 502.0,234.3 503.6,234.2 505.1,234.2 506.7,234.0 508.2,234.0 509.8,233.9 511.3,233.9 512.9,233.9 514.4,233.9 516.0,233.8 517.5,233.8 519.1,233.7 520.6,233.7 522.2,233.7 523.7,233.7 525.3,233.6 526.8,233.6 528.4,233.6 529.9,233.6 531.5,233.5 533.0,233.5 534.6,233.4 536.1,233.4 537.7,233.4 539.2,233.4 540.8,233.3 542.3,233.3 543.9,233.3 545.4,233.3 547.0,233.2 548.5,233.2 550.1,233.2 551.6,233.2 553.2,233.1 554.7,233.1 556.3,233.0 557.8,233.0 559.4,233.0 560.9,233.0 562.5,232.9 564.0,232.9 565.6,232.9 567.1,232.9 568.7,232.8 570.2,232.8 571.8,232.8 573.3,232.8 574.9,232.7 576.4,232.7 578.0,232.7 579.5,232.7 581.1,232.6 582.6,232.6 584.2,232.5 585.7,232.5 586.6,232.5 587.3,232.5 588.8,232.5 590.4,232.5 591.9,232.5 593.5,232.4 595.0,232.4 596.6,232.4 598.1,232.4 599.7,232.3 601.2,232.3 602.8,232.3 604.3,232.3 605.9,232.2 607.4,232.2 609.0,232.2 610.5,232.2 612.1,232.2 613.6,232.2 615.2,232.1 616.7,232.1 618.3,232.1 619.8,232.1 621.4,232.0 622.9,232.0 624.5,232.0 626.0,232.0 627.6,232.0 629.1,232.0 630.7,231.9 632.2,231.9 633.8,231.9 635.3,231.9 636.9,231.8 638.4,231.8 640.0,231.8 641.5,231.8 643.1,231.8 644.6,231.8 646.2,231.7 647.7,231.7 649.3,231.7 650.8,231.7 652.4,231.6 653.9,231.6 655.5,231.6 657.0,231.6 658.6,231.6 660.1,231.6 661.7,231.5 663.2,231.5 664.8,231.5 666.3,231.5 667.9,231.4 669.4,231.4 671.0,231.4 671.0,231.4" fill="none" stroke="#177b92" stroke-width="1.3" stroke-linejoin="round" stroke-linecap="round"/>
<polyline clip-path="url(#cB1)" points="376.5,353.0 378.0,353.0 379.6,353.0 381.1,353.0 382.7,352.9 384.2,352.9 385.8,352.9 387.3,352.9 388.9,352.8 390.4,352.8 392.0,352.8 393.5,352.8 395.1,352.7 396.6,352.7 398.2,352.7 399.7,352.7 401.3,352.6 402.8,352.6 404.4,352.6 405.9,352.6 407.5,352.5 409.0,352.5 410.6,352.5 412.1,352.5 413.7,352.5 415.2,352.5 416.8,352.4 418.3,352.4 419.9,352.4 421.4,352.4 423.0,352.3 424.5,352.3 426.1,351.9 427.6,351.9 429.2,351.4 430.7,351.4 432.3,350.3 433.8,350.3 435.4,348.8 436.9,348.8 437.3,347.9 438.5,346.9 440.0,346.9 441.6,344.3 443.1,344.3 443.9,342.4 444.7,341.6 446.2,341.6 447.8,338.4 449.3,338.4 450.4,335.8 450.9,335.2 452.4,335.2 454.0,331.6 455.5,331.6 457.0,328.1 457.1,328.0 458.6,328.0 460.2,324.4 461.7,324.4 463.3,320.8 464.8,320.8 466.4,318.2 467.9,318.2 469.5,315.6 471.0,315.6 472.6,313.4 474.1,313.4 475.7,311.3 477.2,311.3 478.8,309.3 480.3,309.3 481.9,307.4 483.4,307.4 485.0,305.5 486.5,305.5 488.1,304.2 489.6,304.2 491.2,303.0 492.7,303.0 494.2,301.9 494.3,301.9 495.8,301.9 497.4,300.7 498.9,300.7 500.5,299.5 502.0,299.5 503.0,298.6 503.6,298.4 505.1,298.4 506.7,297.6 508.2,297.6 509.8,296.7 511.3,296.7 512.9,295.9 514.4,295.9 516.0,295.2 517.5,295.2 519.1,294.6 520.6,294.6 522.2,293.9 523.7,293.9 525.3,293.3 526.8,293.3 528.4,292.7 529.9,292.7 531.5,292.0 533.0,292.0 534.6,291.4 536.1,291.4 537.7,290.7 539.2,290.7 540.8,290.1 542.3,290.1 543.9,289.5 545.4,289.5 547.0,289.1 548.5,289.1 550.1,288.6 551.6,288.6 553.2,288.1 554.7,288.1 556.3,287.6 557.8,287.6 559.4,287.2 560.9,287.2 562.5,286.7 564.0,286.7 564.4,286.4 565.6,286.2 567.1,286.2 568.7,285.9 570.2,285.9 571.8,285.5 573.3,285.5 574.9,285.1 576.4,285.1 578.0,284.7 579.5,284.7 581.1,284.3 582.6,284.3 584.2,283.9 585.7,283.9 586.6,283.6 587.3,283.5 588.8,283.5 590.4,283.3 591.9,283.3 593.5,283.0 595.0,283.0 596.6,282.7 598.1,282.7 599.7,282.4 601.2,282.4 602.8,282.1 604.3,282.1 605.9,281.9 607.4,281.9 608.8,281.6 609.0,281.6 610.5,281.6 612.1,281.3 613.6,281.3 615.2,281.1 616.7,281.1 618.3,280.8 619.8,280.8 621.4,280.6 622.9,280.6 624.5,280.3 626.0,280.3 627.6,280.1 629.1,280.1 630.7,279.8 632.2,279.8 633.8,279.6 635.3,279.6 636.9,279.4 638.4,279.4 640.0,279.1 641.5,279.1 643.1,278.9 644.6,278.9 646.2,278.7 647.7,278.7 649.3,278.5 650.8,278.5 652.4,278.3 653.9,278.3 655.5,278.1 657.0,278.1 658.6,278.0 660.1,278.0 661.7,277.9 663.2,277.9 664.8,277.8 666.3,277.8 667.9,277.7 669.4,277.7 671.0,277.6 671.0,277.6" fill="none" stroke="#1ba17f" stroke-width="1.3" stroke-linejoin="round" stroke-linecap="round"/>
<polyline clip-path="url(#cB1)" points="376.5,353.0 378.0,353.0 379.6,353.0 381.1,353.0 382.7,353.0 384.2,353.0 385.8,353.0 387.3,353.0 388.9,352.9 390.4,352.9 392.0,352.9 393.5,352.9 395.1,352.9 396.6,352.9 398.2,352.9 399.7,352.9 401.3,352.9 402.8,352.9 404.4,352.9 405.9,352.9 407.5,352.9 409.0,352.9 410.6,352.8 412.1,352.8 413.7,352.8 415.2,352.8 416.8,352.8 418.3,352.8 419.9,352.8 421.4,352.8 423.0,352.8 424.5,352.8 426.1,352.8 427.6,352.8 429.2,352.8 430.7,352.8 432.3,352.7 433.8,352.7 435.4,352.7 436.9,352.7 438.5,352.7 440.0,352.7 441.6,352.7 443.1,352.7 444.7,352.7 446.2,352.7 447.8,352.7 449.3,352.7 450.9,352.7 452.4,352.7 454.0,352.6 455.5,352.6 457.1,352.6 458.6,352.6 460.2,352.6 461.7,352.6 463.3,352.6 464.8,352.6 466.4,352.6 467.9,352.6 469.5,352.6 471.0,352.6 472.6,352.6 474.1,352.6 475.7,352.5 477.2,352.5 478.8,352.5 480.3,352.5 481.9,352.5 483.4,352.5 485.0,352.5 486.5,352.5 488.1,352.5 489.6,352.5 491.2,352.5 492.7,352.5 494.3,352.4 495.8,352.4 497.4,352.4 498.9,352.4 500.5,352.4 502.0,352.4 503.6,352.4 505.1,352.4 506.7,352.3 508.2,352.3 509.8,352.1 511.3,352.1 512.9,352.0 514.4,352.0 516.0,351.8 517.5,351.8 519.1,351.6 520.6,351.6 522.2,351.3 523.7,351.3 525.3,351.0 526.8,351.0 528.4,350.6 529.9,350.6 531.5,350.3 533.0,350.3 534.6,349.9 536.1,349.9 537.7,349.5 539.2,349.5 540.8,349.2 542.3,349.2 543.9,348.6 545.4,348.6 547.0,347.9 548.5,347.9 550.1,347.3 551.6,347.3 553.2,346.6 554.7,346.6 556.3,345.9 557.8,345.9 559.4,345.2 560.9,345.2 562.5,344.5 564.0,344.5 564.4,344.1 565.6,343.8 567.1,343.8 568.7,343.2 570.2,343.2 571.8,342.5 573.3,342.5 574.9,341.8 576.4,341.8 578.0,341.1 579.5,341.1 581.1,340.4 582.6,340.4 584.2,339.7 585.7,339.7 586.6,339.2 587.3,339.1 588.8,339.1 590.4,338.7 591.9,338.7 593.5,338.3 595.0,338.3 596.6,337.9 598.1,337.9 599.7,337.5 601.2,337.5 602.8,337.2 604.3,337.2 605.9,336.8 607.4,336.8 608.8,336.4 609.0,336.4 610.5,336.4 612.1,336.0 613.6,336.0 615.2,335.6 616.7,335.6 618.3,335.2 619.8,335.2 621.4,334.7 622.9,334.7 624.5,334.3 626.0,334.3 627.6,333.9 629.1,333.9 630.7,333.5 632.2,333.5 633.8,333.1 635.3,333.1 636.9,332.8 638.4,332.8 640.0,332.4 641.5,332.4 643.1,332.0 644.6,332.0 646.2,331.6 647.7,331.6 649.3,331.3 650.8,331.3 652.4,330.9 653.9,330.9 655.5,330.6 657.0,330.6 658.6,330.3 660.1,330.3 661.7,330.1 663.2,330.1 664.8,329.8 666.3,329.8 667.9,329.6 669.4,329.6 671.0,329.3 671.0,329.3" fill="none" stroke="#6cc070" stroke-width="1.3" stroke-linejoin="round" stroke-linecap="round"/>
<polyline clip-path="url(#cB1)" points="376.5,353.0 378.0,353.0 379.6,353.0 381.1,353.0 382.7,353.0 384.2,353.0 385.8,353.0 387.3,353.0 388.9,353.0 390.4,353.0 392.0,353.0 393.5,353.0 395.1,352.9 396.6,352.9 398.2,352.9 399.7,352.9 401.3,352.9 402.8,352.9 404.4,352.9 405.9,352.9 407.5,352.9 409.0,352.9 410.6,352.9 412.1,352.9 413.7,352.9 415.2,352.9 416.8,352.9 418.3,352.9 419.9,352.9 421.4,352.9 423.0,352.9 424.5,352.9 426.1,352.9 427.6,352.9 429.2,352.9 430.7,352.9 432.3,352.8 433.8,352.8 435.4,352.8 436.9,352.8 438.5,352.8 440.0,352.8 441.6,352.8 443.1,352.8 444.7,352.8 446.2,352.8 447.8,352.8 449.3,352.8 450.9,352.8 452.4,352.8 454.0,352.8 455.5,352.8 457.1,352.8 458.6,352.8 460.2,352.8 461.7,352.8 463.3,352.8 464.8,352.8 466.4,352.8 467.9,352.8 469.5,352.7 471.0,352.7 472.6,352.7 474.1,352.7 475.7,352.7 477.2,352.7 478.8,352.7 480.3,352.7 481.9,352.7 483.4,352.7 485.0,352.7 486.5,352.7 488.1,352.7 489.6,352.7 491.2,352.7 492.7,352.7 494.3,352.7 495.8,352.7 497.4,352.7 498.9,352.7 500.5,352.7 502.0,352.7 503.6,352.7 505.1,352.7 506.7,352.6 508.2,352.6 509.8,352.6 511.3,352.6 512.9,352.6 514.4,352.6 516.0,352.6 517.5,352.6 519.1,352.6 520.6,352.6 522.2,352.6 523.7,352.6 525.3,352.6 526.8,352.6 528.4,352.6 529.9,352.6 531.5,352.6 533.0,352.6 534.6,352.6 536.1,352.6 537.7,352.6 539.2,352.6 540.8,352.6 542.3,352.6 543.9,352.5 545.4,352.5 547.0,352.5 548.5,352.5 550.1,352.5 551.6,352.5 553.2,352.5 554.7,352.5 556.3,352.5 557.8,352.5 559.4,352.5 560.9,352.5 562.5,352.5 564.0,352.5 565.6,352.5 567.1,352.5 568.7,352.5 570.2,352.5 571.8,352.5 573.3,352.5 574.9,352.5 576.4,352.5 578.0,352.5 579.5,352.5 581.1,352.4 582.6,352.4 584.2,352.4 585.7,352.4 587.3,352.4 588.8,352.4 590.4,352.4 591.9,352.4 593.5,352.4 595.0,352.4 596.6,352.4 598.1,352.4 599.7,352.4 601.2,352.4 602.8,352.4 604.3,352.4 605.9,352.4 607.4,352.4 609.0,352.4 610.5,352.4 612.1,352.4 613.6,352.4 615.2,352.4 616.7,352.4 618.3,352.3 619.8,352.3 621.4,352.3 622.9,352.3 624.5,352.3 626.0,352.3 627.6,352.3 629.1,352.3 630.7,352.3 632.2,352.3 633.8,352.3 635.3,352.3 636.9,352.3 638.4,352.3 640.0,352.3 641.5,352.3 643.1,352.3 644.6,352.3 646.2,352.3 647.7,352.3 649.3,352.3 650.8,352.3 652.4,352.3 653.9,352.3 655.5,352.2 657.0,352.2 658.6,352.2 660.1,352.2 661.7,352.2 663.2,352.2 664.8,352.2 666.3,352.2 667.9,352.2 669.4,352.2 671.0,352.2 671.0,352.2" fill="none" stroke="#f3e430" stroke-width="1.3" stroke-linejoin="round" stroke-linecap="round"/>
<polyline clip-path="url(#cC0)" points="46.5,406.0 48.2,411.5 50.4,437.8 53.7,470.6 56.9,494.7 61.3,506.8 67.9,511.1 78.8,512.9 89.8,512.9 111.7,513.8 133.6,513.3 155.5,512.9 177.4,513.8 196.0,512.9 220.0,514.0 250.0,513.0 280.0,514.0 310.0,513.0 341.0,513.6" fill="none" stroke="#440154" stroke-width="1.6" stroke-linejoin="round" stroke-linecap="round"/>
<polyline clip-path="url(#cC0)" points="46.5,406.0 48.5,409.5 50.7,414.0 53.0,429.2 55.7,440.0 58.2,453.2 61.3,465.5 63.8,475.6 66.4,481.8 70.4,485.8 76.5,488.9 86.7,490.9 111.7,491.9 133.6,491.4 155.5,491.9 177.4,492.1 196.0,491.4 220.0,492.2 250.0,491.2 280.0,492.2 310.0,491.2 341.0,491.8" fill="none" stroke="#414487" stroke-width="1.6" stroke-linejoin="round" stroke-linecap="round"/>
<polyline clip-path="url(#cC0)" points="46.5,406.0 49.3,409.3 51.5,414.8 56.9,418.1 61.3,422.5 65.7,433.4 71.2,446.6 78.8,449.8 85.4,452.7 90.9,463.0 100.7,469.5 110.6,475.5 118.3,474.6 129.2,471.7 135.8,463.0 140.2,459.7 144.5,459.3 148.9,467.4 159.9,472.8 169.7,476.8 177.4,475.5 188.3,471.7 192.7,465.0 196.5,460.5 203.3,459.5 207.8,467.2 218.8,472.8 228.8,477.2 236.6,475.0 246.6,471.7 252.1,463.9 256.6,460.6 261.0,459.5 265.4,467.2 276.5,472.8 286.5,477.2 294.3,475.0 305.4,471.7 310.9,463.9 316.5,460.1 320.9,459.5 325.3,467.2 332.0,470.5 341.0,475.2" fill="none" stroke="#177b92" stroke-width="1.6" stroke-linejoin="round" stroke-linecap="round"/>
<polyline clip-path="url(#cC0)" points="46.5,406.0 59.1,406.7 65.7,410.4 72.3,419.2 79.9,429.0 85.4,431.7 90.9,428.6 98.6,418.1 105.1,411.5 110.6,413.3 116.1,424.7 122.6,440.0 129.2,453.1 134.7,459.7 140.2,461.9 144.5,459.3 150.0,448.7 155.5,437.8 161.0,426.8 164.2,423.6 168.6,423.6 174.1,432.3 181.8,448.7 188.3,459.7 192.7,464.0 198.9,465.0 205.5,460.6 212.2,445.0 218.8,430.6 223.3,425.1 228.8,425.1 234.4,432.8 241.0,447.3 247.7,458.3 256.6,466.1 263.2,462.8 269.9,449.5 276.5,432.8 282.1,425.1 286.5,426.2 292.1,438.4 298.7,449.5 305.4,460.6 314.3,466.1 320.9,462.8 327.6,449.5 334.2,436.2 341.0,426.0" fill="none" stroke="#1ba17f" stroke-width="1.6" stroke-linejoin="round" stroke-linecap="round"/>
<polyline clip-path="url(#cC0)" points="46.5,406.0 89.8,406.5 102.9,407.6 111.7,409.8 122.6,412.0 133.6,413.3 144.5,413.3 153.3,413.3 162.0,415.9 170.8,419.2 179.6,423.6 190.0,426.0 201.1,424.0 214.4,421.7 227.7,425.1 245.5,429.5 256.6,427.3 272.1,424.0 285.4,426.2 303.2,431.3 316.5,428.4 327.6,425.1 341.0,426.2" fill="none" stroke="#6cc070" stroke-width="1.6" stroke-linejoin="round" stroke-linecap="round"/>
<polyline clip-path="url(#cC0)" points="46.5,406.0 190.0,406.2 234.4,407.8 278.8,409.8 341.0,412.2" fill="none" stroke="#f3e430" stroke-width="1.6" stroke-linejoin="round" stroke-linecap="round"/>
<polyline clip-path="url(#cC1)" points="376.5,406.2 378.0,406.2 378.2,406.7 379.6,408.3 381.1,408.3 381.5,410.4 382.7,417.0 384.2,417.0 385.8,437.1 387.3,437.1 388.0,455.3 388.9,461.6 390.4,461.6 392.0,480.2 393.5,480.2 395.1,494.6 396.6,494.6 396.8,501.3 398.2,504.8 399.7,504.8 401.2,512.2 401.3,512.3 402.8,512.3 404.4,516.7 405.9,516.7 406.7,519.9 407.5,520.4 409.0,520.4 410.6,522.1 412.1,522.1 413.2,523.6 413.7,523.7 415.2,523.7 416.8,524.3 418.3,524.3 419.9,524.9 421.4,524.9 423.0,525.6 424.5,525.6 426.1,525.9 427.6,525.9 429.2,526.0 430.7,526.0 432.3,526.1 433.8,526.1 435.4,526.2 436.9,526.2 438.5,526.4 440.0,526.4 441.6,526.5 443.1,526.5 444.7,526.5 446.2,526.5 447.8,526.5 449.3,526.5 450.9,526.5 452.4,526.5 454.0,526.5 455.5,526.5 457.1,526.5 458.6,526.5 460.2,526.5 461.7,526.5 463.3,526.5 464.8,526.5 466.4,526.4 467.9,526.4 469.5,526.4 471.0,526.4 472.6,526.3 474.1,526.3 475.7,526.2 477.2,526.2 478.8,526.2 480.3,526.2 481.9,526.1 483.4,526.1 485.0,526.0 486.5,526.0 488.1,526.1 489.6,526.1 491.2,526.1 492.7,526.1 494.3,526.2 495.8,526.2 497.4,526.3 498.9,526.3 500.5,526.3 502.0,526.3 503.6,526.4 505.1,526.4 506.7,526.5 508.2,526.5 509.8,526.5 511.3,526.5 512.9,526.4 514.4,526.4 516.0,526.4 517.5,526.4 519.1,526.3 520.6,526.3 522.2,526.3 523.7,526.3 525.3,526.2 526.8,526.2 528.4,526.2 529.9,526.2 531.5,526.3 533.0,526.3 534.6,526.4 536.1,526.4 537.7,526.4 539.2,526.4 540.8,526.5 542.3,526.5 543.9,526.5 545.4,526.5 547.0,526.6 548.5,526.6 550.1,526.6 551.6,526.6 553.2,526.7 554.7,526.7 556.3,526.7 557.8,526.7 559.4,526.8 560.9,526.8 562.5,526.8 564.0,526.8 565.6,526.7 567.1,526.7 568.7,526.7 570.2,526.7 571.8,526.7 573.3,526.7 574.9,526.7 576.4,526.7 578.0,526.6 579.5,526.6 581.1,526.6 582.6,526.6 584.2,526.6 585.7,526.6 587.3,526.5 588.8,526.5 590.4,526.5 591.9,526.5 593.5,526.5 595.0,526.5 596.6,526.4 598.1,526.4 599.7,526.4 601.2,526.4 602.8,526.4 604.3,526.4 605.9,526.5 607.4,526.5 609.0,526.5 610.5,526.5 612.1,526.6 613.6,526.6 615.2,526.6 616.7,526.6 618.3,526.6 619.8,526.6 621.4,526.7 622.9,526.7 624.5,526.7 626.0,526.7 627.6,526.7 629.1,526.7 630.7,526.8 632.2,526.8 633.8,526.8 635.3,526.8 636.9,526.9 638.4,526.9 640.0,526.9 640.0,526.9 641.5,526.9 643.1,526.9 644.6,526.9 646.2,526.8 647.7,526.8 649.3,526.8 650.8,526.8 652.4,526.8 653.9,526.8 655.5,526.8 657.0,526.8 658.6,526.7 660.1,526.7 661.7,526.7 663.2,526.7 664.8,526.7 666.3,526.7 667.9,526.6 669.4,526.6 671.0,526.6 671.0,526.6" fill="none" stroke="#440154" stroke-width="1.35" stroke-linejoin="round" stroke-linecap="round"/>
<polyline clip-path="url(#cC1)" points="376.5,406.2 378.0,406.2 378.2,406.7 379.6,406.9 381.1,406.9 382.7,407.2 384.2,407.2 385.8,407.6 387.3,407.6 388.9,410.2 390.4,410.2 392.0,417.2 393.5,417.2 395.1,426.1 396.6,426.1 396.8,431.2 398.2,436.1 399.7,436.1 401.2,446.6 401.3,446.9 402.8,446.9 404.4,457.7 405.9,457.7 407.5,466.7 409.0,466.7 409.9,472.8 410.6,474.2 412.1,474.2 413.7,480.4 415.2,480.4 416.8,485.1 418.3,485.1 419.8,489.2 419.9,489.3 421.4,489.3 423.0,491.9 424.5,491.9 426.1,494.5 427.6,494.5 429.2,495.8 430.7,495.8 432.3,496.9 433.8,496.9 435.1,498.0 435.4,498.1 436.9,498.1 438.5,498.6 440.0,498.6 441.6,499.1 443.1,499.1 444.7,499.6 446.2,499.6 447.8,500.1 449.3,500.1 450.9,500.4 452.4,500.4 454.0,500.6 455.5,500.6 457.1,500.8 458.6,500.8 460.2,501.1 461.7,501.1 463.3,501.3 464.8,501.3 466.4,501.3 467.9,501.3 469.5,501.3 471.0,501.3 472.6,501.3 474.1,501.3 475.7,501.3 477.2,501.3 478.8,501.3 480.3,501.3 481.9,501.3 483.4,501.3 485.0,501.3 486.5,501.3 488.1,501.3 489.6,501.3 491.2,501.3 492.7,501.3 494.3,501.3 495.8,501.3 497.4,501.3 498.9,501.3 500.5,501.3 502.0,501.3 503.6,501.3 505.1,501.3 506.7,501.3 508.2,501.3 509.8,501.4 511.3,501.4 512.9,501.4 514.4,501.4 516.0,501.5 517.5,501.5 519.1,501.6 520.6,501.6 522.2,501.6 523.7,501.6 525.3,501.7 526.8,501.7 528.4,501.7 529.9,501.7 531.5,501.7 533.0,501.7 534.6,501.8 536.1,501.8 537.7,501.8 539.2,501.8 540.8,501.8 542.3,501.8 543.9,501.9 545.4,501.9 547.0,501.9 548.5,501.9 550.1,501.9 551.6,501.9 553.2,501.9 554.7,501.9 556.3,502.0 557.8,502.0 559.4,502.0 560.9,502.0 562.5,502.0 564.0,502.0 565.6,501.9 567.1,501.9 568.7,501.9 570.2,501.9 571.8,501.9 573.3,501.9 574.9,501.9 576.4,501.9 578.0,501.8 579.5,501.8 581.1,501.8 582.6,501.8 584.2,501.8 585.7,501.8 587.3,501.7 588.8,501.7 590.4,501.7 591.9,501.7 593.5,501.7 595.0,501.7 596.6,501.6 598.1,501.6 599.7,501.6 601.2,501.6 602.8,501.6 604.3,501.6 605.9,501.7 607.4,501.7 609.0,501.7 610.5,501.7 612.1,501.7 613.6,501.7 615.2,501.8 616.7,501.8 618.3,501.8 619.8,501.8 621.4,501.8 622.9,501.8 624.5,501.8 626.0,501.8 627.6,501.9 629.1,501.9 630.7,501.9 632.2,501.9 633.8,501.9 635.3,501.9 636.9,502.0 638.4,502.0 640.0,502.0 640.0,502.0 641.5,502.0 643.1,502.0 644.6,502.0 646.2,502.0 647.7,502.0 649.3,501.9 650.8,501.9 652.4,501.9 653.9,501.9 655.5,501.9 657.0,501.9 658.6,501.9 660.1,501.9 661.7,501.9 663.2,501.9 664.8,501.8 666.3,501.8 667.9,501.8 669.4,501.8 671.0,501.8 671.0,501.8" fill="none" stroke="#414487" stroke-width="1.3" stroke-linejoin="round" stroke-linecap="round"/>
<polyline clip-path="url(#cC1)" points="376.5,406.2 378.0,406.2 378.2,406.7 379.6,414.0 381.1,414.0 382.6,426.8 382.7,427.2 384.2,427.2 384.8,434.5 385.8,434.0 387.3,434.0 388.9,432.4 390.4,432.4 392.0,430.4 393.5,430.4 395.1,428.3 396.6,428.3 398.2,424.2 399.7,424.2 401.3,419.6 402.8,419.6 404.4,411.8 405.9,411.8 406.7,404.9 407.5,403.3 409.0,403.3 410.6,399.2 412.1,399.2 413.2,397.3 413.7,397.4 415.2,397.4 416.5,397.9 416.8,398.9 418.3,398.9 418.7,404.9 419.9,408.5 421.4,408.5 423.0,417.8 424.5,417.8 426.1,426.4 427.6,426.4 428.6,433.4 429.2,435.1 430.7,435.1 432.3,443.9 433.8,443.9 434.0,448.7 435.4,452.1 436.9,452.1 438.5,459.5 440.0,459.5 441.6,463.6 443.1,463.6 444.7,466.1 446.2,466.1 447.8,466.1 449.3,466.1 450.9,465.8 452.4,465.8 454.0,465.6 455.5,465.6 457.1,465.4 458.6,465.4 459.2,465.2 460.2,462.9 461.7,462.9 462.5,457.5 463.3,454.9 464.8,454.9 465.8,446.6 466.4,445.4 467.9,445.4 469.5,439.2 471.0,439.2 472.6,437.2 474.1,437.2 474.5,436.7 475.7,440.3 477.2,440.3 477.8,446.6 478.8,447.7 480.3,447.7 481.9,451.2 483.4,451.2 485.0,454.7 486.5,454.7 488.1,459.2 489.6,459.2 491.2,463.9 492.7,463.9 494.2,468.4 494.3,468.5 495.8,468.5 497.4,471.1 498.9,471.1 500.5,473.8 502.0,473.8 503.6,474.4 505.1,474.4 506.7,473.4 508.2,473.4 509.8,472.4 511.3,472.4 511.8,471.7 512.9,471.4 514.4,471.4 516.0,470.5 517.5,470.5 519.1,469.6 520.6,469.6 522.2,458.3 522.2,458.3 523.7,458.3 524.4,451.7 525.3,449.3 526.8,449.3 527.8,442.8 528.4,442.5 529.9,442.5 531.5,440.9 533.0,440.9 534.4,447.3 534.6,447.6 536.1,447.6 537.7,451.6 539.2,451.6 540.8,454.7 542.3,454.7 543.9,457.9 545.4,457.9 546.6,460.6 547.0,461.1 548.5,461.1 550.1,465.2 551.6,465.2 553.2,469.3 554.7,469.3 556.3,472.0 557.8,472.0 559.4,474.7 560.9,474.7 561.0,476.1 562.5,475.5 564.0,475.5 565.6,474.2 567.1,474.2 568.7,472.8 570.2,472.8 571.8,471.9 573.3,471.9 574.9,471.0 576.4,471.0 576.6,470.5 578.0,466.3 579.5,466.3 579.9,460.6 581.1,457.0 582.6,457.0 583.2,450.6 584.2,448.3 585.7,448.3 586.6,442.8 587.3,442.6 588.8,442.6 590.4,441.8 591.9,441.8 593.5,447.6 595.0,447.6 596.6,452.5 598.1,452.5 599.7,455.9 601.2,455.9 602.8,459.1 604.3,459.1 605.9,462.7 607.4,462.7 609.0,466.8 610.5,466.8 611.0,469.4 612.1,470.5 613.6,470.5 615.2,473.6 616.7,473.6 618.3,476.8 619.8,476.8 621.4,477.3 622.9,477.3 624.5,475.4 626.0,475.4 627.6,473.5 629.1,473.5 630.7,472.2 632.2,472.2 633.8,471.3 635.3,471.3 636.5,470.5 636.9,468.7 638.4,468.7 638.7,460.6 640.0,455.3 641.5,455.3 643.1,447.8 644.6,447.8 646.2,442.2 647.7,442.2 649.3,441.7 650.8,441.7 650.9,441.7 652.4,445.7 653.9,445.7 654.2,450.6 655.5,451.9 657.0,451.9 658.6,454.9 660.1,454.9 661.7,458.0 663.2,458.0 664.8,461.5 666.3,461.5 667.9,465.0 669.4,465.0 671.0,468.5 671.0,468.5" fill="none" stroke="#177b92" stroke-width="1.3" stroke-linejoin="round" stroke-linecap="round"/>
<polyline clip-path="url(#cC1)" points="376.5,406.2 378.0,406.2 378.2,406.7 379.6,406.7 381.1,406.7 382.7,406.7 384.2,406.7 385.8,406.8 387.3,406.8 388.9,406.8 390.4,406.8 392.0,406.8 393.5,406.8 395.1,406.9 396.6,406.9 398.2,406.9 399.7,406.9 401.3,406.9 402.8,406.9 404.4,407.0 405.9,407.0 407.5,407.0 409.0,407.0 410.6,407.0 412.1,407.0 413.7,407.0 415.2,407.0 416.8,407.1 418.3,407.1 419.8,407.1 419.9,407.1 421.4,407.1 423.0,408.1 424.5,408.1 426.1,409.0 427.6,409.0 429.2,409.9 430.7,409.9 432.3,411.0 433.8,411.0 435.4,412.3 436.9,412.3 438.5,413.5 440.0,413.5 441.6,414.8 443.1,414.8 444.7,415.4 446.2,415.4 447.8,416.1 449.3,416.1 450.4,416.6 450.9,416.5 452.4,416.5 454.0,415.9 455.5,415.9 457.1,415.2 458.6,415.2 459.2,414.8 460.2,414.4 461.7,414.4 463.3,413.1 464.8,413.1 466.4,411.8 467.9,411.8 468.0,411.1 469.5,410.8 471.0,410.8 472.6,410.2 474.1,410.2 474.5,409.8 475.7,410.2 477.2,410.2 478.8,411.2 480.3,411.2 481.9,412.2 483.4,412.2 485.0,414.1 486.5,414.1 488.1,416.8 489.6,416.8 491.2,419.6 492.7,419.6 494.3,422.0 495.8,422.0 497.4,424.3 498.9,424.3 500.5,426.6 502.0,426.6 503.6,427.9 505.1,427.9 506.7,429.0 508.2,429.0 509.6,430.1 509.8,430.0 511.3,430.0 512.9,428.8 514.4,428.8 516.0,427.7 517.5,427.7 518.3,426.8 519.1,426.4 520.6,426.4 522.2,424.9 523.7,424.9 525.3,423.4 526.8,423.4 528.4,422.6 529.9,422.6 531.5,421.9 533.0,421.9 534.6,422.4 536.1,422.4 537.7,423.3 539.2,423.3 540.0,424.0 540.8,424.6 542.3,424.6 543.9,426.9 545.4,426.9 547.0,429.3 548.5,429.3 548.8,430.6 550.1,431.3 551.6,431.3 553.2,433.1 554.7,433.1 556.3,434.9 557.8,434.9 559.4,435.8 560.9,435.8 562.5,436.0 564.0,436.0 565.6,436.1 567.1,436.1 568.7,435.1 570.2,435.1 571.8,433.6 573.3,433.6 574.9,432.0 576.4,432.0 578.0,430.4 579.5,430.4 581.1,428.9 582.6,428.9 584.2,427.3 585.7,427.3 587.3,426.8 588.8,426.8 590.4,426.3 591.9,426.3 593.5,427.0 595.0,427.0 596.6,428.0 598.1,428.0 599.7,429.7 601.2,429.7 602.8,431.6 604.3,431.6 605.9,433.5 607.4,433.5 609.0,435.2 610.5,435.2 612.1,436.7 613.6,436.7 615.2,438.3 616.7,438.3 618.3,439.2 619.8,439.2 621.4,440.0 622.9,440.0 624.5,439.1 626.0,439.1 627.6,437.7 629.1,437.7 630.7,436.3 632.2,436.3 633.8,434.0 635.3,434.0 636.9,431.7 638.4,431.7 639.8,429.5 640.0,429.5 641.5,429.5 643.1,428.7 644.6,428.7 646.2,427.9 647.7,427.9 648.7,427.3 649.3,427.4 650.8,427.4 652.4,428.2 653.9,428.2 655.5,429.0 657.0,429.0 657.6,429.5 658.6,430.0 660.1,430.0 661.7,431.6 663.2,431.6 664.8,433.2 666.3,433.2 667.9,434.8 669.4,434.8 671.0,436.4 671.0,436.4" fill="none" stroke="#1ba17f" stroke-width="1.3" stroke-linejoin="round" stroke-linecap="round"/>
<polyline clip-path="url(#cC1)" points="376.5,406.2 378.0,406.2 379.6,406.2 381.1,406.2 382.7,406.2 384.2,406.2 385.8,406.2 387.3,406.2 388.9,406.2 390.4,406.2 392.0,406.2 393.5,406.2 395.1,406.3 396.6,406.3 398.2,406.3 399.7,406.3 401.3,406.3 402.8,406.3 404.4,406.3 405.9,406.3 407.5,406.3 409.0,406.3 410.6,406.3 412.1,406.3 413.7,406.3 415.2,406.3 416.8,406.3 418.3,406.3 419.9,406.3 421.4,406.3 423.0,406.3 424.5,406.3 426.1,406.3 427.6,406.3 429.2,406.3 430.7,406.3 432.3,406.4 433.8,406.4 435.4,406.4 436.9,406.4 438.5,406.4 440.0,406.4 441.6,406.4 443.1,406.4 444.7,406.4 446.2,406.4 447.8,406.4 449.3,406.4 450.9,406.4 452.4,406.4 454.0,406.4 455.5,406.4 457.1,406.4 458.6,406.4 460.2,406.4 461.7,406.4 463.3,406.4 464.8,406.4 466.4,406.4 467.9,406.4 469.5,406.5 471.0,406.5 472.6,406.5 474.1,406.5 475.7,406.5 477.2,406.5 478.8,406.5 480.3,406.5 481.9,406.5 483.4,406.5 485.0,406.5 486.5,406.5 488.1,406.5 489.6,406.5 491.2,406.5 492.7,406.5 494.3,406.5 495.8,406.5 497.4,406.5 498.9,406.5 500.5,406.5 502.0,406.5 503.6,406.5 505.1,406.5 506.7,406.6 508.2,406.6 509.8,406.6 511.3,406.6 512.9,406.6 514.4,406.6 516.0,406.6 517.5,406.6 519.1,406.6 520.6,406.6 522.2,406.6 523.7,406.6 525.3,406.6 526.8,406.6 528.4,406.6 529.9,406.6 531.5,406.6 533.0,406.6 534.6,406.6 536.1,406.6 537.7,406.6 539.2,406.6 540.8,406.6 542.3,406.6 543.9,406.7 545.4,406.7 547.0,406.7 548.5,406.7 550.1,406.7 551.6,406.7 553.2,406.7 554.7,406.7 556.3,406.7 557.8,406.7 559.4,406.7 560.9,406.7 562.5,406.8 564.0,406.8 565.6,406.8 567.1,406.8 568.7,406.9 570.2,406.9 571.8,407.0 573.3,407.0 574.9,407.0 576.4,407.0 578.0,407.1 579.5,407.1 581.1,407.2 582.6,407.2 584.2,407.2 585.7,407.2 586.6,407.3 587.3,407.3 588.8,407.3 590.4,407.5 591.9,407.5 593.5,407.6 595.0,407.6 596.6,407.8 598.1,407.8 599.7,407.9 601.2,407.9 602.8,408.1 604.3,408.1 605.9,408.3 607.4,408.3 608.8,408.4 609.0,408.4 610.5,408.4 612.1,408.6 613.6,408.6 615.2,408.7 616.7,408.7 618.3,408.9 619.8,408.9 621.4,409.0 622.9,409.0 624.5,409.2 626.0,409.2 627.6,409.3 629.1,409.3 630.7,409.5 632.2,409.5 633.8,409.7 635.3,409.7 636.9,409.9 638.4,409.9 640.0,410.2 641.5,410.2 643.1,410.4 644.6,410.4 646.2,410.6 647.7,410.6 649.3,410.8 650.8,410.8 652.4,411.0 653.9,411.0 655.5,411.3 657.0,411.3 658.6,411.5 660.1,411.5 661.7,411.7 663.2,411.7 664.8,411.9 666.3,411.9 667.9,412.2 669.4,412.2 671.0,412.4 671.0,412.4" fill="none" stroke="#6cc070" stroke-width="1.3" stroke-linejoin="round" stroke-linecap="round"/>
<polyline clip-path="url(#cC1)" points="376.5,406.2 378.0,406.2 379.6,406.2 381.1,406.2 382.7,406.2 384.2,406.2 385.8,406.2 387.3,406.2 388.9,406.2 390.4,406.2 392.0,406.2 393.5,406.2 395.1,406.2 396.6,406.2 398.2,406.2 399.7,406.2 401.3,406.2 402.8,406.2 404.4,406.2 405.9,406.2 407.5,406.2 409.0,406.2 410.6,406.2 412.1,406.2 413.7,406.3 415.2,406.3 416.8,406.3 418.3,406.3 419.9,406.3 421.4,406.3 423.0,406.3 424.5,406.3 426.1,406.3 427.6,406.3 429.2,406.3 430.7,406.3 432.3,406.3 433.8,406.3 435.4,406.3 436.9,406.3 438.5,406.3 440.0,406.3 441.6,406.3 443.1,406.3 444.7,406.3 446.2,406.3 447.8,406.3 449.3,406.3 450.9,406.3 452.4,406.3 454.0,406.3 455.5,406.3 457.1,406.3 458.6,406.3 460.2,406.3 461.7,406.3 463.3,406.3 464.8,406.3 466.4,406.3 467.9,406.3 469.5,406.3 471.0,406.3 472.6,406.3 474.1,406.3 475.7,406.3 477.2,406.3 478.8,406.3 480.3,406.3 481.9,406.3 483.4,406.3 485.0,406.3 486.5,406.3 488.1,406.4 489.6,406.4 491.2,406.4 492.7,406.4 494.3,406.4 495.8,406.4 497.4,406.4 498.9,406.4 500.5,406.4 502.0,406.4 503.6,406.4 505.1,406.4 506.7,406.4 508.2,406.4 509.8,406.4 511.3,406.4 512.9,406.4 514.4,406.4 516.0,406.4 517.5,406.4 519.1,406.4 520.6,406.4 522.2,406.4 523.7,406.4 525.3,406.4 526.8,406.4 528.4,406.4 529.9,406.4 531.5,406.4 533.0,406.4 534.6,406.4 536.1,406.4 537.7,406.4 539.2,406.4 540.8,406.4 542.3,406.4 543.9,406.4 545.4,406.4 547.0,406.4 548.5,406.4 550.1,406.4 551.6,406.4 553.2,406.4 554.7,406.4 556.3,406.4 557.8,406.4 559.4,406.4 560.9,406.4 562.5,406.5 564.0,406.5 565.6,406.5 567.1,406.5 568.7,406.5 570.2,406.5 571.8,406.5 573.3,406.5 574.9,406.5 576.4,406.5 578.0,406.5 579.5,406.5 581.1,406.5 582.6,406.5 584.2,406.5 585.7,406.5 587.3,406.5 588.8,406.5 590.4,406.5 591.9,406.5 593.5,406.5 595.0,406.5 596.6,406.5 598.1,406.5 599.7,406.5 601.2,406.5 602.8,406.5 604.3,406.5 605.9,406.5 607.4,406.5 609.0,406.5 610.5,406.5 612.1,406.5 613.6,406.5 615.2,406.5 616.7,406.5 618.3,406.5 619.8,406.5 621.4,406.5 622.9,406.5 624.5,406.5 626.0,406.5 627.6,406.5 629.1,406.5 630.7,406.5 632.2,406.5 633.8,406.5 635.3,406.5 636.9,406.6 638.4,406.6 640.0,406.6 641.5,406.6 643.1,406.6 644.6,406.6 646.2,406.6 647.7,406.6 649.3,406.6 650.8,406.6 652.4,406.6 653.9,406.6 655.5,406.6 657.0,406.6 658.6,406.6 660.1,406.6 661.7,406.6 663.2,406.6 664.8,406.6 666.3,406.6 667.9,406.6 669.4,406.6 671.0,406.6 671.0,406.6" fill="none" stroke="#f3e430" stroke-width="1.3" stroke-linejoin="round" stroke-linecap="round"/>
<polyline clip-path="url(#cD0)" points="46.5,646.6 49.3,664.6 52.6,690.9 55.9,706.2 61.3,710.1 66.8,701.8 70.1,675.5 73.4,636.1 76.7,605.5 81.0,589.0 86.1,584.3 88.9,599.0 91.6,622.8 94.4,650.3 97.1,674.1 99.9,694.3 104.5,705.3 110.0,711.7 115.5,713.5 120.0,710.8 123.6,705.3 126.5,694.3 129.1,665.0 131.9,632.0 134.6,604.5 138.4,591.7 142.1,586.2 144.6,584.3 147.3,599.0 150.1,622.8 152.8,650.3 155.6,674.1 158.3,694.3 162.9,705.3 168.4,711.7 173.9,713.5 178.5,710.8 182.1,705.3 184.9,694.3 187.6,665.0 190.4,632.0 193.1,604.5 196.8,591.7 200.5,586.2 203.1,584.3 205.8,599.0 208.6,622.8 211.2,650.3 214.1,674.1 216.8,694.3 221.4,705.3 226.9,711.7 232.4,713.5 236.9,710.8 240.6,705.3 243.4,694.3 246.1,665.0 248.9,632.0 251.6,604.5 255.2,591.7 258.9,586.2 261.5,584.3 264.2,599.0 267.0,622.8 269.7,650.3 272.5,674.1 275.2,694.3 279.8,705.3 285.3,711.7 290.8,713.5 295.4,710.8 299.0,705.3 301.8,694.3 304.5,665.0 307.3,632.0 310.0,604.5 313.7,591.7 317.4,586.2 320.0,584.3 322.7,599.0 325.5,622.8 328.2,650.3 331.0,674.1 333.7,694.3 338.2,705.3 343.8,711.7 349.2,713.5 353.9,710.8 357.5,705.3 360.2,694.3 363.0,665.0 365.8,632.0 368.5,604.5 372.2,591.7 375.9,586.2" fill="none" stroke="#440154" stroke-width="1.6" stroke-linejoin="round" stroke-linecap="round"/>
<polyline clip-path="url(#cD0)" points="46.5,646.6 50.4,653.6 54.8,669.0 59.1,682.1 62.4,692.0 66.8,694.1 70.1,688.7 73.4,677.7 76.7,649.3 79.9,627.4 83.2,614.2 87.0,605.4 90.7,605.4 93.5,613.7 96.2,630.1 99.9,650.3 104.5,672.3 109.0,687.0 114.5,696.1 120.0,701.2 124.6,698.9 128.2,687.0 131.9,663.1 135.6,637.5 140.1,619.1 143.1,611.0 145.5,605.4 149.2,605.4 151.9,613.7 154.7,630.1 158.3,650.3 162.9,672.3 167.5,687.0 173.0,696.1 178.5,701.2 183.1,698.9 186.7,687.0 190.4,663.1 194.1,637.5 198.6,619.1 201.5,611.0 203.9,605.4 207.6,605.4 210.4,613.7 213.1,630.1 216.8,650.3 221.4,672.3 225.9,687.0 231.4,696.1 236.9,701.2 241.6,698.9 245.1,687.0 248.9,663.1 252.6,637.5 257.1,619.1 259.9,611.0 262.4,605.4 266.1,605.4 268.8,613.7 271.6,630.1 275.2,650.3 279.8,672.3 284.4,687.0 289.9,696.1 295.4,701.2 300.0,698.9 303.6,687.0 307.3,663.1 311.0,637.5 315.5,619.1 318.4,611.0 320.9,605.4 324.6,605.4 327.2,613.7 330.1,630.1 333.7,650.3 338.2,672.3 342.9,687.0 348.4,696.1 353.9,701.2 358.5,698.9 362.1,687.0 365.8,663.1 369.5,637.5 374.0,619.1 376.9,611.0" fill="none" stroke="#414487" stroke-width="1.6" stroke-linejoin="round" stroke-linecap="round"/>
<polyline clip-path="url(#cD0)" points="46.5,646.6 52.6,647.1 56.9,651.4 63.5,662.4 70.1,673.3 74.5,676.2 78.8,673.3 85.4,658.0 90.5,640.0 95.2,627.4 99.0,627.4 103.5,635.6 109.0,650.3 114.5,665.0 120.0,677.8 125.5,685.1 130.1,685.1 134.6,681.5 139.2,668.6 144.8,650.3 150.2,633.8 153.7,627.4 157.4,627.4 162.0,635.6 167.5,650.3 173.0,665.0 178.5,677.8 184.0,685.1 188.6,685.1 193.1,681.5 197.7,668.6 203.2,650.3 208.7,633.8 212.1,627.4 215.9,627.4 220.4,635.6 225.9,650.3 231.4,665.0 236.9,677.8 242.4,685.1 247.1,685.1 251.6,681.5 256.1,668.6 261.6,650.3 267.1,633.8 270.6,627.4 274.3,627.4 278.9,635.6 284.4,650.3 289.9,665.0 295.4,677.8 300.9,685.1 305.5,685.1 310.0,681.5 314.6,668.6 320.1,650.3 325.6,633.8 329.1,627.4 332.8,627.4 337.4,635.6 342.9,650.3 348.4,665.0 353.9,677.8 359.4,685.1 364.0,685.1 368.5,681.5 373.1,668.6 378.6,650.3 384.1,633.8" fill="none" stroke="#177b92" stroke-width="1.6" stroke-linejoin="round" stroke-linecap="round"/>
<polyline clip-path="url(#cD0)" points="46.5,646.6 72.0,647.0 78.0,648.0 85.0,651.0 92.0,654.3 98.0,656.5 103.0,657.0 109.5,654.7 118.3,649.3 124.8,645.3 130.3,644.4 135.8,647.1 144.5,653.6 151.0,661.2 156.5,663.1 162.0,661.3 167.5,655.8 173.0,651.2 178.5,647.6 184.0,646.6 189.5,647.6 195.0,650.3 202.3,654.0 205.5,657.5 209.4,661.2 214.9,663.1 220.4,661.3 225.9,655.8 231.4,651.2 236.9,647.6 242.4,646.6 247.9,647.6 253.4,650.3 260.8,654.0 263.9,657.5 267.9,661.2 273.4,663.1 278.9,661.3 284.4,655.8 289.9,651.2 295.4,647.6 300.9,646.6 306.4,647.6 311.9,650.3 319.2,654.0 322.4,657.5 326.4,661.2 331.9,663.1 337.4,661.3 342.9,655.8 348.4,651.2 353.9,647.6 359.4,646.6 364.9,647.6 370.4,650.3 377.7,654.0 380.9,657.5" fill="none" stroke="#1ba17f" stroke-width="1.6" stroke-linejoin="round" stroke-linecap="round"/>
<polyline clip-path="url(#cD0)" points="46.5,646.6 100.0,647.5 133.6,648.2 158.3,649.4 176.6,647.6 191.3,648.8 200.5,651.2 212.2,652.4 234.4,649.1 247.7,648.0 267.7,652.4 289.8,650.2 300.9,648.0 323.1,652.4 341.0,651.3" fill="none" stroke="#6cc070" stroke-width="1.6" stroke-linejoin="round" stroke-linecap="round"/>
<polyline clip-path="url(#cD0)" points="46.5,646.4 200.0,646.6 341.0,647.0" fill="none" stroke="#f3e430" stroke-width="1.6" stroke-linejoin="round" stroke-linecap="round"/>
<polyline clip-path="url(#cD1)" points="376.5,646.6 378.0,646.6 379.3,682.1 379.6,684.2 381.1,684.2 381.5,697.4 382.7,700.6 384.2,700.6 384.8,706.2 385.8,707.7 387.3,707.7 388.9,712.5 390.4,712.5 392.0,710.9 393.5,710.9 395.1,701.6 396.6,701.6 398.2,681.3 399.7,681.3 401.2,649.3 401.3,648.0 402.8,648.0 403.4,620.8 404.4,614.2 405.9,614.2 406.7,598.9 407.5,596.7 409.0,596.7 410.6,588.0 412.1,588.0 413.5,584.0 413.7,583.9 415.2,583.9 415.4,583.4 416.8,584.3 418.3,584.3 418.4,592.0 419.3,599.0 419.9,604.8 421.4,604.8 421.5,623.2 423.0,638.3 424.5,638.3 424.6,659.4 426.1,673.9 426.1,673.9 427.6,673.9 427.9,686.5 429.2,691.7 430.7,691.7 432.3,701.9 433.8,701.9 435.4,708.3 436.9,708.3 438.5,712.5 440.0,712.5 440.5,714.6 441.6,715.0 443.1,715.0 444.7,716.2 446.2,716.2 447.8,715.9 449.3,715.9 449.6,715.5 450.9,713.7 452.4,713.7 454.0,707.3 455.5,707.3 456.8,693.8 457.1,690.8 458.6,690.8 460.1,654.0 460.2,652.2 461.7,652.2 463.1,610.6 463.3,609.3 464.8,609.3 465.9,592.5 466.4,591.7 467.9,591.7 469.5,587.0 469.5,587.0 471.0,587.0 472.6,584.3 474.1,584.3 475.5,584.5 475.7,585.8 477.2,585.8 477.6,599.0 478.6,608.7 478.8,611.1 480.3,611.1 481.6,641.3 481.9,645.5 483.4,645.5 484.4,673.9 485.0,678.1 486.5,678.1 488.1,694.2 489.6,694.2 491.2,703.5 492.7,703.5 494.3,709.3 495.8,709.3 497.4,713.2 498.9,713.2 500.5,715.3 502.0,715.3 503.4,716.4 503.6,716.4 505.1,716.4 506.7,715.7 508.2,715.7 509.8,712.9 511.3,712.9 512.9,705.7 514.4,705.7 515.1,693.8 516.0,684.7 517.5,684.7 518.4,654.0 519.1,641.3 520.6,641.3 521.4,610.6 522.2,605.4 523.7,605.4 524.2,592.5 525.3,590.8 526.8,590.8 527.8,587.0 528.4,586.5 529.9,586.5 531.5,583.8 533.0,583.8 533.8,584.5 534.6,589.5 536.1,589.5 536.9,608.7 537.7,618.4 539.2,618.4 539.9,641.3 540.8,653.8 542.3,653.8 542.7,673.9 543.9,682.3 545.4,682.3 547.0,696.6 548.5,696.6 549.9,704.6 550.1,705.0 551.6,705.0 553.2,710.4 554.7,710.4 556.3,713.8 557.8,713.8 559.4,715.5 560.9,715.5 561.7,716.4 562.5,716.2 564.0,716.2 565.6,715.6 567.1,715.6 568.7,712.1 570.2,712.1 571.6,704.6 571.8,703.4 573.3,703.4 573.4,693.8 574.9,678.7 576.4,678.7 576.7,654.0 577.9,632.3 578.0,631.1 579.5,631.1 579.7,610.6 581.1,601.5 582.6,601.5 584.2,589.9 585.7,589.9 586.1,587.0 587.3,586.0 588.8,586.0 590.3,583.4 590.4,583.5 591.9,583.5 592.1,584.5 593.3,592.0 593.5,593.6 595.0,593.6 595.2,608.7 596.4,623.2 596.6,625.2 598.1,625.2 598.2,641.3 599.5,659.4 599.7,661.3 601.2,661.3 602.8,686.5 602.8,686.5 604.3,686.5 605.5,697.4 605.9,698.5 607.4,698.5 608.2,704.6 609.0,706.0 610.5,706.0 611.8,710.9 612.1,711.2 613.6,711.2 615.2,714.4 616.7,714.4 618.3,715.7 619.8,715.7 620.0,716.4 621.4,716.1 622.9,716.1 624.5,715.5 624.5,715.5 626.0,715.5 627.2,711.8 627.6,710.7 629.1,710.7 629.9,704.6 630.7,699.8 632.2,699.8 633.5,675.7 633.8,671.4 635.3,671.4 636.2,632.3 636.9,623.9 638.4,623.9 640.0,597.7 641.5,597.7 643.1,589.0 644.6,589.0 646.2,585.5 647.7,585.5 648.6,583.4 649.3,583.8 650.8,583.8 651.6,592.0 652.4,598.2 653.9,598.2 654.7,623.2 655.5,631.2 657.0,631.2 657.8,659.4 658.6,667.1 660.1,667.1 661.1,686.5 661.7,688.9 663.2,688.9 663.8,697.4 664.8,700.1 666.3,700.1 666.5,704.6 667.9,707.1 669.4,707.1 670.1,710.9 671.0,711.8 672.5,711.8 673.7,714.6 674.1,714.8 675.6,714.8 677.2,716.0 678.7,716.0 680.3,716.0 681.8,716.0 682.8,715.5 683.4,714.7 684.9,714.7 685.5,711.8 686.5,709.1 688.0,709.1 688.2,704.6 689.6,696.2 691.1,696.2 691.8,675.7 692.7,662.7 694.2,662.7 694.5,632.3 695.8,616.6 697.3,616.6 698.9,593.8 700.4,593.8 702.0,588.1 702.7,588.1 702.7,587.0" fill="none" stroke="#440154" stroke-width="1.7" stroke-linejoin="round" stroke-linecap="round"/>
<polyline clip-path="url(#cD1)" points="376.5,646.6 378.0,646.6 379.6,647.0 381.1,647.0 381.5,647.2 382.7,649.2 384.2,649.2 384.9,652.9 385.8,655.4 387.3,655.4 388.9,663.9 390.4,663.9 392.0,670.5 393.5,670.5 394.1,674.7 395.1,675.9 396.6,675.9 398.2,679.8 399.7,679.8 401.3,681.0 402.8,681.0 403.3,678.2 404.4,675.4 405.9,675.4 407.5,660.6 409.0,660.6 410.6,644.3 412.1,644.3 412.4,638.6 413.7,635.6 415.2,635.6 415.4,631.7 416.8,628.2 418.3,628.2 419.8,620.8 419.9,620.7 421.4,620.7 423.0,619.0 424.5,619.0 426.1,621.4 427.6,621.4 428.4,624.1 429.2,626.3 430.7,626.3 432.3,634.7 433.8,634.7 435.4,646.6 436.9,646.6 438.2,658.0 438.5,658.8 440.0,658.8 441.6,667.0 443.1,667.0 444.7,675.2 446.2,675.2 447.8,680.0 449.3,680.0 450.9,684.7 452.4,684.7 454.0,686.7 455.5,686.7 457.1,688.3 458.6,688.3 460.2,686.4 461.7,686.4 462.3,684.3 463.3,680.3 464.8,680.3 465.6,671.2 466.4,666.4 467.9,666.4 468.9,651.4 469.5,649.0 471.0,649.0 472.6,636.3 474.1,636.3 475.7,628.3 477.2,628.3 477.6,624.1 478.8,623.0 480.3,623.0 481.9,620.1 483.4,620.1 485.0,622.4 486.5,622.4 486.7,624.1 488.1,627.9 489.6,627.9 491.1,636.1 491.2,636.5 492.7,636.5 494.3,649.1 495.8,649.1 496.5,658.0 497.4,660.4 498.9,660.4 500.5,668.6 502.0,668.6 503.1,675.5 503.6,676.3 505.1,676.3 506.7,680.9 508.2,680.9 509.7,685.4 509.8,685.5 511.3,685.5 512.9,687.0 514.4,687.0 516.0,688.6 517.5,688.6 519.1,685.8 520.6,685.8 522.2,677.9 523.7,677.9 523.9,671.2 525.3,662.8 526.8,662.8 527.2,651.4 528.4,646.5 529.9,646.5 531.5,633.9 531.5,633.9 533.0,633.9 534.6,627.0 536.1,627.0 537.7,622.4 539.2,622.4 540.6,619.7 540.8,619.9 542.3,619.9 543.9,623.0 545.4,623.0 547.0,629.6 548.5,629.6 549.4,636.1 550.1,638.9 551.6,638.9 553.2,651.5 554.7,651.5 554.8,658.0 556.3,662.0 557.8,662.0 559.4,670.2 560.9,670.2 561.4,675.5 562.5,677.2 564.0,677.2 565.6,681.8 567.1,681.8 568.0,685.4 568.7,685.8 570.2,685.8 571.8,687.3 573.3,687.3 574.5,688.7 574.9,688.3 576.4,688.3 578.0,685.2 579.5,685.2 581.1,675.6 582.6,675.6 584.2,659.2 585.7,659.2 587.3,644.1 588.8,644.1 589.8,633.9 590.4,632.6 591.9,632.6 593.5,625.7 595.0,625.7 596.6,621.9 598.1,621.9 598.9,619.7 599.7,620.5 601.2,620.5 602.8,623.6 604.3,623.6 605.9,631.2 607.4,631.2 607.7,636.1 609.0,641.4 610.5,641.4 612.1,653.9 613.6,653.9 615.2,663.6 616.7,663.6 618.3,671.8 619.8,671.8 621.4,678.1 622.9,678.1 624.5,682.7 626.0,682.7 626.3,685.4 627.6,686.1 629.1,686.1 630.7,687.6 632.2,687.6 632.8,688.7 633.8,687.7 635.3,687.7 636.9,684.6 638.4,684.6 640.0,673.2 641.5,673.2 643.1,655.6 644.6,655.6 646.2,641.6 647.7,641.6 648.1,633.9 649.3,631.2 650.8,631.2 652.4,624.3 653.9,624.3 655.5,621.3 657.0,621.3 657.2,619.7 658.6,621.1 660.1,621.1 661.6,624.1 661.7,624.4 663.2,624.4 664.8,632.8 666.3,632.8 667.9,643.8 669.4,643.8 671.0,656.4 672.5,656.4 674.1,665.2 675.6,665.2 677.2,673.4 678.7,673.4 680.3,679.0 681.8,679.0 683.4,683.6 684.9,683.6 686.5,686.4 688.0,686.4 689.6,687.9 691.1,687.9 692.7,687.1 694.2,687.1 695.5,684.3 695.8,683.1 697.3,683.1 698.8,671.2 698.9,670.6 700.4,670.6 702.0,652.0 703.5,652.0 705.1,639.2 706.6,639.2 708.2,629.9 709.7,629.9 710.8,624.1 710.8,624.1" fill="none" stroke="#414487" stroke-width="1.3" stroke-linejoin="round" stroke-linecap="round"/>
<polyline clip-path="url(#cD1)" points="376.5,646.6 378.0,646.6 379.6,646.7 381.1,646.7 382.7,646.8 384.2,646.8 385.8,646.9 387.3,646.9 388.9,647.0 390.4,647.0 392.0,647.1 393.5,647.1 395.1,647.6 396.6,647.6 398.2,648.7 399.7,648.7 400.1,649.3 401.3,650.1 402.8,650.1 404.4,652.1 405.9,652.1 406.7,653.6 407.5,654.1 409.0,654.1 410.6,656.2 412.1,656.2 413.2,658.0 413.7,658.1 415.2,658.1 416.8,658.8 418.3,658.8 419.9,659.6 421.4,659.6 423.0,658.9 424.5,658.9 426.1,657.5 427.6,657.5 429.2,654.5 430.7,654.5 432.3,650.1 433.8,650.1 435.4,646.8 436.9,646.8 438.4,643.8 438.5,643.8 440.0,643.8 441.6,642.7 443.1,642.7 444.7,641.7 446.2,641.7 447.8,643.0 449.3,643.0 450.9,644.6 452.4,644.6 454.0,647.8 455.5,647.8 457.1,651.3 458.6,651.3 460.2,655.3 461.7,655.3 463.3,659.4 464.8,659.4 466.4,662.3 467.9,662.3 469.5,664.2 471.0,664.2 472.6,665.4 474.1,665.4 475.7,666.5 477.2,666.5 478.8,665.7 480.3,665.7 481.9,664.2 483.4,664.2 485.0,660.9 486.5,660.9 488.1,656.3 489.6,656.3 489.9,653.6 491.2,652.1 492.7,652.1 494.3,648.5 495.8,648.5 496.4,646.0 497.4,645.6 498.9,645.6 500.5,644.2 502.0,644.2 503.0,643.1 503.6,643.3 505.1,643.3 506.7,644.1 508.2,644.1 509.6,644.9 509.8,645.1 511.3,645.1 512.9,648.2 514.4,648.2 516.0,651.3 517.5,651.3 519.1,655.9 520.6,655.9 522.2,660.6 523.7,660.6 525.3,663.4 526.8,663.4 528.4,665.0 529.9,665.0 531.5,665.9 533.0,665.9 534.6,666.7 536.1,666.7 537.7,666.1 539.2,666.1 540.8,664.9 542.3,664.9 543.9,663.7 545.4,663.7 547.0,660.3 548.5,660.3 550.1,656.4 551.6,656.4 553.2,652.5 554.7,652.5 556.3,649.4 557.8,649.4 559.4,646.4 560.9,646.4 562.2,643.6 562.5,643.7 564.0,643.7 565.6,644.2 567.1,644.2 568.7,644.7 570.2,644.7 571.8,647.3 573.3,647.3 574.9,650.0 576.4,650.0 577.7,652.4 578.0,652.8 579.5,652.8 581.1,657.1 582.6,657.1 584.2,661.3 585.7,661.3 586.6,664.6 587.3,664.9 588.8,664.9 590.4,666.1 591.9,666.1 593.5,667.3 595.0,667.3 595.4,668.0 596.6,667.2 598.1,667.2 599.7,665.3 601.2,665.3 602.8,663.3 604.3,663.3 605.9,659.8 607.4,659.8 609.0,654.8 610.5,654.8 612.1,649.8 613.6,649.8 615.2,646.7 616.7,646.7 618.3,644.6 619.8,644.6 621.4,644.4 622.9,644.4 624.5,645.9 626.0,645.9 627.6,647.5 629.1,647.5 630.7,650.5 632.2,650.5 633.8,654.4 635.3,654.4 636.9,658.2 638.4,658.2 640.0,661.2 641.5,661.2 643.1,663.9 644.6,663.9 646.2,666.6 647.7,666.6 649.3,667.3 650.8,667.3 652.4,667.6 653.9,667.6 655.3,668.0 655.5,667.8 657.0,667.8 658.6,665.1 660.1,665.1 661.7,662.4 663.2,662.4 664.2,660.2 664.8,659.5 666.3,659.5 667.9,655.7 669.4,655.7 671.0,652.0 671.0,652.0" fill="none" stroke="#177b92" stroke-width="1.3" stroke-linejoin="round" stroke-linecap="round"/>
<polyline clip-path="url(#cD1)" points="376.5,646.6 378.0,646.6 379.6,646.6 381.1,646.6 382.7,646.6 384.2,646.6 385.8,646.7 387.3,646.7 388.9,646.7 390.4,646.7 392.0,646.7 393.5,646.7 395.1,646.7 396.6,646.7 398.2,646.7 399.7,646.7 401.3,646.7 402.8,646.7 404.4,646.8 405.9,646.8 407.5,646.8 409.0,646.8 410.6,646.8 412.1,646.8 413.7,646.8 415.2,646.8 416.8,646.8 418.3,646.8 419.9,646.8 421.4,646.8 423.0,646.9 424.5,646.9 426.1,646.9 427.6,646.9 429.2,646.9 430.7,646.9 432.3,646.9 433.8,646.9 435.4,646.9 436.9,646.9 438.5,646.9 440.0,646.9 441.6,647.0 443.1,647.0 444.7,647.0 446.2,647.0 447.8,647.0 449.3,647.0 450.0,647.0 450.9,647.0 452.4,647.0 454.0,647.1 455.5,647.1 457.1,647.1 458.6,647.1 460.2,647.2 461.7,647.2 463.3,647.3 464.8,647.3 466.4,647.3 467.9,647.3 469.5,647.4 471.0,647.4 472.6,647.5 474.1,647.5 475.7,647.5 477.2,647.5 478.8,647.6 480.3,647.6 481.9,647.6 483.4,647.6 485.0,647.7 486.5,647.7 488.1,647.8 489.6,647.8 491.2,647.8 492.7,647.8 494.3,647.9 495.8,647.9 497.4,647.9 498.9,647.9 500.5,648.0 502.0,648.0 503.6,648.1 505.1,648.1 506.7,648.1 508.2,648.1 509.8,648.2 511.3,648.2 512.9,648.3 514.4,648.3 516.0,648.3 517.5,648.3 519.1,648.4 520.6,648.4 522.2,648.5 523.7,648.5 525.3,648.7 526.8,648.7 528.4,648.8 529.9,648.8 531.5,649.0 533.0,649.0 534.6,649.2 536.1,649.2 537.7,649.3 539.2,649.3 540.8,649.5 542.3,649.5 543.9,649.6 545.4,649.6 547.0,649.8 548.5,649.8 550.1,650.0 551.6,650.0 553.2,650.1 554.7,650.1 556.3,650.3 557.8,650.3 559.4,650.4 560.9,650.4 562.5,650.6 564.0,650.6 564.4,650.7 565.6,650.7 567.1,650.7 568.7,650.9 570.2,650.9 571.8,651.0 573.3,651.0 574.9,651.1 576.4,651.1 578.0,651.2 579.5,651.2 581.1,651.3 582.6,651.3 584.2,651.5 585.7,651.5 587.3,651.6 588.8,651.6 590.4,651.7 591.9,651.7 593.5,651.8 595.0,651.8 596.6,651.9 598.1,651.9 599.7,652.1 601.2,652.1 602.8,652.2 604.3,652.2 605.9,652.3 607.4,652.3 608.8,652.4 609.0,652.4 610.5,652.4 612.1,652.5 613.6,652.5 615.2,652.5 616.7,652.5 618.3,652.6 619.8,652.6 621.4,652.6 622.9,652.6 624.5,652.7 626.0,652.7 627.6,652.7 629.1,652.7 630.7,652.8 632.2,652.8 633.8,652.8 635.3,652.8 636.9,652.9 638.4,652.9 640.0,653.0 641.5,653.0 643.1,653.0 644.6,653.0 646.2,653.1 647.7,653.1 649.3,653.1 650.8,653.1 652.4,653.2 653.9,653.2 655.5,653.2 657.0,653.2 658.6,653.3 660.1,653.3 661.7,653.3 663.2,653.3 664.8,653.4 666.3,653.4 667.9,653.4 669.4,653.4 671.0,653.5 671.0,653.5" fill="none" stroke="#1ba17f" stroke-width="1.3" stroke-linejoin="round" stroke-linecap="round"/>
<polyline clip-path="url(#cD1)" points="376.5,646.4 378.0,646.4 379.6,646.4 381.1,646.4 382.7,646.4 384.2,646.4 385.8,646.4 387.3,646.4 388.9,646.4 390.4,646.4 392.0,646.4 393.5,646.4 395.1,646.4 396.6,646.4 398.2,646.4 399.7,646.4 401.3,646.4 402.8,646.4 404.4,646.4 405.9,646.4 407.5,646.4 409.0,646.4 410.6,646.4 412.1,646.4 413.7,646.4 415.2,646.4 416.8,646.4 418.3,646.4 419.9,646.4 421.4,646.4 423.0,646.4 424.5,646.4 426.1,646.4 427.6,646.4 429.2,646.4 430.7,646.4 432.3,646.4 433.8,646.4 435.4,646.4 436.9,646.4 438.5,646.4 440.0,646.4 441.6,646.4 443.1,646.4 444.7,646.4 446.2,646.4 447.8,646.4 449.3,646.4 450.9,646.5 452.4,646.5 454.0,646.5 455.5,646.5 457.1,646.5 458.6,646.5 460.2,646.5 461.7,646.5 463.3,646.5 464.8,646.5 466.4,646.5 467.9,646.5 469.5,646.5 471.0,646.5 472.6,646.5 474.1,646.5 475.7,646.5 477.2,646.5 478.8,646.5 480.3,646.5 481.9,646.5 483.4,646.5 485.0,646.5 486.5,646.5 488.1,646.5 489.6,646.5 491.2,646.5 492.7,646.5 494.3,646.5 495.8,646.5 497.4,646.5 498.9,646.5 500.5,646.5 502.0,646.5 503.6,646.5 505.1,646.5 506.7,646.5 508.2,646.5 509.8,646.5 511.3,646.5 512.9,646.5 514.4,646.5 516.0,646.5 517.5,646.5 519.1,646.5 520.6,646.5 522.2,646.5 523.7,646.5 525.3,646.5 526.8,646.5 528.4,646.5 529.9,646.5 531.5,646.5 533.0,646.5 534.6,646.5 536.1,646.5 537.7,646.5 539.2,646.5 540.8,646.5 542.3,646.5 543.9,646.5 545.4,646.5 547.0,646.5 548.5,646.5 550.1,646.5 551.6,646.5 553.2,646.5 554.7,646.5 556.3,646.5 557.8,646.5 559.4,646.5 560.9,646.5 562.5,646.5 564.0,646.5 565.6,646.5 567.1,646.5 568.7,646.5 570.2,646.5 571.8,646.5 573.3,646.5 574.9,646.5 576.4,646.5 578.0,646.5 579.5,646.5 581.1,646.5 582.6,646.5 584.2,646.5 585.7,646.5 587.3,646.5 588.8,646.5 590.4,646.5 591.9,646.5 593.5,646.5 595.0,646.5 596.6,646.5 598.1,646.5 599.7,646.6 601.2,646.6 602.8,646.6 604.3,646.6 605.9,646.6 607.4,646.6 609.0,646.6 610.5,646.6 612.1,646.6 613.6,646.6 615.2,646.6 616.7,646.6 618.3,646.6 619.8,646.6 621.4,646.6 622.9,646.6 624.5,646.6 626.0,646.6 627.6,646.6 629.1,646.6 630.7,646.6 632.2,646.6 633.8,646.6 635.3,646.6 636.9,646.6 638.4,646.6 640.0,646.6 641.5,646.6 643.1,646.6 644.6,646.6 646.2,646.6 647.7,646.6 649.3,646.6 650.8,646.6 652.4,646.6 653.9,646.6 655.5,646.6 657.0,646.6 658.6,646.6 660.1,646.6 661.7,646.6 663.2,646.6 664.8,646.6 666.3,646.6 667.9,646.6 669.4,646.6 671.0,646.6 671.0,646.6" fill="none" stroke="#f3e430" stroke-width="1.3" stroke-linejoin="round" stroke-linecap="round"/>
<g filter="url(#gf)">
<rect x="46.5" y="28.5" width="294.0" height="142.0" fill="none" stroke="#666666" stroke-width="1"/>
<line x1="40.5" y1="170.5" x2="46.5" y2="170.5" stroke="#666666" stroke-width="1"/>
<line x1="40.5" y1="152.5" x2="46.5" y2="152.5" stroke="#666666" stroke-width="1"/>
<line x1="40.5" y1="133.5" x2="46.5" y2="133.5" stroke="#666666" stroke-width="1"/>
<line x1="40.5" y1="115.5" x2="46.5" y2="115.5" stroke="#666666" stroke-width="1"/>
<line x1="40.5" y1="97.5" x2="46.5" y2="97.5" stroke="#666666" stroke-width="1"/>
<line x1="40.5" y1="78.5" x2="46.5" y2="78.5" stroke="#666666" stroke-width="1"/>
<line x1="40.5" y1="60.5" x2="46.5" y2="60.5" stroke="#666666" stroke-width="1"/>
<line x1="40.5" y1="42.5" x2="46.5" y2="42.5" stroke="#666666" stroke-width="1"/>
<text x="37.20" y="175.00" text-anchor="end" class="tl t1">0</text>
<text x="39.40" y="138.33" text-anchor="end" class="tl t1"><tspan class="h1">1</tspan></text>
<text x="37.20" y="101.66" text-anchor="end" class="tl t1">2</text>
<text x="37.20" y="64.99" text-anchor="end" class="tl t1">3</text>
<line x1="46.5" y1="170.5" x2="46.5" y2="176.5" stroke="#666666" stroke-width="1"/>
<line x1="61.5" y1="170.5" x2="61.5" y2="173.5" stroke="#666666" stroke-width="1"/>
<line x1="75.5" y1="170.5" x2="75.5" y2="173.5" stroke="#666666" stroke-width="1"/>
<line x1="90.5" y1="170.5" x2="90.5" y2="173.5" stroke="#666666" stroke-width="1"/>
<line x1="105.5" y1="170.5" x2="105.5" y2="176.5" stroke="#666666" stroke-width="1"/>
<line x1="120.5" y1="170.5" x2="120.5" y2="173.5" stroke="#666666" stroke-width="1"/>
<line x1="134.5" y1="170.5" x2="134.5" y2="173.5" stroke="#666666" stroke-width="1"/>
<line x1="149.5" y1="170.5" x2="149.5" y2="173.5" stroke="#666666" stroke-width="1"/>
<line x1="164.5" y1="170.5" x2="164.5" y2="176.5" stroke="#666666" stroke-width="1"/>
<line x1="178.5" y1="170.5" x2="178.5" y2="173.5" stroke="#666666" stroke-width="1"/>
<line x1="193.5" y1="170.5" x2="193.5" y2="173.5" stroke="#666666" stroke-width="1"/>
<line x1="208.5" y1="170.5" x2="208.5" y2="173.5" stroke="#666666" stroke-width="1"/>
<line x1="222.5" y1="170.5" x2="222.5" y2="176.5" stroke="#666666" stroke-width="1"/>
<line x1="237.5" y1="170.5" x2="237.5" y2="173.5" stroke="#666666" stroke-width="1"/>
<line x1="252.5" y1="170.5" x2="252.5" y2="173.5" stroke="#666666" stroke-width="1"/>
<line x1="266.5" y1="170.5" x2="266.5" y2="173.5" stroke="#666666" stroke-width="1"/>
<line x1="281.5" y1="170.5" x2="281.5" y2="176.5" stroke="#666666" stroke-width="1"/>
<line x1="296.5" y1="170.5" x2="296.5" y2="173.5" stroke="#666666" stroke-width="1"/>
<line x1="311.5" y1="170.5" x2="311.5" y2="173.5" stroke="#666666" stroke-width="1"/>
<line x1="325.5" y1="170.5" x2="325.5" y2="173.5" stroke="#666666" stroke-width="1"/>
<line x1="340.5" y1="170.5" x2="340.5" y2="176.5" stroke="#666666" stroke-width="1"/>
<text x="46.50" y="188.10" text-anchor="middle" class="tl t1">0</text>
<text x="105.30" y="188.10" text-anchor="middle" class="tl t1"><tspan class="h1">1</tspan></text>
<text x="164.10" y="188.10" text-anchor="middle" class="tl t1">2</text>
<text x="222.90" y="188.10" text-anchor="middle" class="tl t1">3</text>
<text x="281.70" y="188.10" text-anchor="middle" class="tl t1">4</text>
<text x="340.50" y="188.10" text-anchor="middle" class="tl t1">5</text>
<text x="46.5" y="22.10" class="pl">A (9 m u. GOK)</text>
<rect x="376.5" y="28.5" width="294.0" height="142.0" fill="none" stroke="#666666" stroke-width="1"/>
<line x1="370.5" y1="170.5" x2="376.5" y2="170.5" stroke="#666666" stroke-width="1"/>
<line x1="370.5" y1="152.5" x2="376.5" y2="152.5" stroke="#666666" stroke-width="1"/>
<line x1="370.5" y1="133.5" x2="376.5" y2="133.5" stroke="#666666" stroke-width="1"/>
<line x1="370.5" y1="115.5" x2="376.5" y2="115.5" stroke="#666666" stroke-width="1"/>
<line x1="370.5" y1="97.5" x2="376.5" y2="97.5" stroke="#666666" stroke-width="1"/>
<line x1="370.5" y1="78.5" x2="376.5" y2="78.5" stroke="#666666" stroke-width="1"/>
<line x1="370.5" y1="60.5" x2="376.5" y2="60.5" stroke="#666666" stroke-width="1"/>
<line x1="370.5" y1="42.5" x2="376.5" y2="42.5" stroke="#666666" stroke-width="1"/>
<text x="367.20" y="175.00" text-anchor="end" class="tl t1">0</text>
<text x="369.40" y="138.33" text-anchor="end" class="tl t1"><tspan class="h1">1</tspan></text>
<text x="367.20" y="101.66" text-anchor="end" class="tl t1">2</text>
<text x="367.20" y="64.99" text-anchor="end" class="tl t1">3</text>
<line x1="376.5" y1="170.5" x2="376.5" y2="176.5" stroke="#666666" stroke-width="1"/>
<line x1="391.5" y1="170.5" x2="391.5" y2="173.5" stroke="#666666" stroke-width="1"/>
<line x1="405.5" y1="170.5" x2="405.5" y2="173.5" stroke="#666666" stroke-width="1"/>
<line x1="420.5" y1="170.5" x2="420.5" y2="173.5" stroke="#666666" stroke-width="1"/>
<line x1="435.5" y1="170.5" x2="435.5" y2="176.5" stroke="#666666" stroke-width="1"/>
<line x1="450.5" y1="170.5" x2="450.5" y2="173.5" stroke="#666666" stroke-width="1"/>
<line x1="464.5" y1="170.5" x2="464.5" y2="173.5" stroke="#666666" stroke-width="1"/>
<line x1="479.5" y1="170.5" x2="479.5" y2="173.5" stroke="#666666" stroke-width="1"/>
<line x1="494.5" y1="170.5" x2="494.5" y2="176.5" stroke="#666666" stroke-width="1"/>
<line x1="508.5" y1="170.5" x2="508.5" y2="173.5" stroke="#666666" stroke-width="1"/>
<line x1="523.5" y1="170.5" x2="523.5" y2="173.5" stroke="#666666" stroke-width="1"/>
<line x1="538.5" y1="170.5" x2="538.5" y2="173.5" stroke="#666666" stroke-width="1"/>
<line x1="552.5" y1="170.5" x2="552.5" y2="176.5" stroke="#666666" stroke-width="1"/>
<line x1="567.5" y1="170.5" x2="567.5" y2="173.5" stroke="#666666" stroke-width="1"/>
<line x1="582.5" y1="170.5" x2="582.5" y2="173.5" stroke="#666666" stroke-width="1"/>
<line x1="596.5" y1="170.5" x2="596.5" y2="173.5" stroke="#666666" stroke-width="1"/>
<line x1="611.5" y1="170.5" x2="611.5" y2="176.5" stroke="#666666" stroke-width="1"/>
<line x1="626.5" y1="170.5" x2="626.5" y2="173.5" stroke="#666666" stroke-width="1"/>
<line x1="641.5" y1="170.5" x2="641.5" y2="173.5" stroke="#666666" stroke-width="1"/>
<line x1="655.5" y1="170.5" x2="655.5" y2="173.5" stroke="#666666" stroke-width="1"/>
<line x1="670.5" y1="170.5" x2="670.5" y2="176.5" stroke="#666666" stroke-width="1"/>
<text x="376.50" y="188.10" text-anchor="middle" class="tl t1">0</text>
<text x="435.30" y="188.10" text-anchor="middle" class="tl t1"><tspan class="h1">1</tspan></text>
<text x="494.10" y="188.10" text-anchor="middle" class="tl t1">2</text>
<text x="552.90" y="188.10" text-anchor="middle" class="tl t1">3</text>
<text x="611.70" y="188.10" text-anchor="middle" class="tl t1">4</text>
<text x="670.50" y="188.10" text-anchor="middle" class="tl t1">5</text>
<text x="376.5" y="22.10" class="pl">A (9 m u. GOK)</text>
<text x="20.3" y="99.50" transform="rotate(-90 20.3 99.50)" text-anchor="middle" class="pl">Δ T [K]</text>
<rect x="46.5" y="211.5" width="294.0" height="142.0" fill="none" stroke="#666666" stroke-width="1"/>
<line x1="40.5" y1="353.5" x2="46.5" y2="353.5" stroke="#666666" stroke-width="1"/>
<line x1="40.5" y1="333.5" x2="46.5" y2="333.5" stroke="#666666" stroke-width="1"/>
<line x1="40.5" y1="314.5" x2="46.5" y2="314.5" stroke="#666666" stroke-width="1"/>
<line x1="40.5" y1="294.5" x2="46.5" y2="294.5" stroke="#666666" stroke-width="1"/>
<line x1="40.5" y1="275.5" x2="46.5" y2="275.5" stroke="#666666" stroke-width="1"/>
<line x1="40.5" y1="256.5" x2="46.5" y2="256.5" stroke="#666666" stroke-width="1"/>
<line x1="40.5" y1="236.5" x2="46.5" y2="236.5" stroke="#666666" stroke-width="1"/>
<line x1="40.5" y1="217.5" x2="46.5" y2="217.5" stroke="#666666" stroke-width="1"/>
<text x="37.20" y="358.00" text-anchor="end" class="tl t1">0</text>
<text x="39.40" y="338.00" text-anchor="end" class="tl t1"><tspan class="h1">1</tspan></text>
<text x="37.20" y="319.00" text-anchor="end" class="tl t1">2</text>
<text x="37.20" y="299.00" text-anchor="end" class="tl t1">3</text>
<text x="37.20" y="280.00" text-anchor="end" class="tl t1">4</text>
<text x="37.20" y="261.00" text-anchor="end" class="tl t1">5</text>
<text x="37.20" y="241.00" text-anchor="end" class="tl t1">6</text>
<text x="37.20" y="222.00" text-anchor="end" class="tl t1">7</text>
<line x1="46.5" y1="353.5" x2="46.5" y2="359.5" stroke="#666666" stroke-width="1"/>
<line x1="61.5" y1="353.5" x2="61.5" y2="356.5" stroke="#666666" stroke-width="1"/>
<line x1="75.5" y1="353.5" x2="75.5" y2="356.5" stroke="#666666" stroke-width="1"/>
<line x1="90.5" y1="353.5" x2="90.5" y2="356.5" stroke="#666666" stroke-width="1"/>
<line x1="105.5" y1="353.5" x2="105.5" y2="359.5" stroke="#666666" stroke-width="1"/>
<line x1="120.5" y1="353.5" x2="120.5" y2="356.5" stroke="#666666" stroke-width="1"/>
<line x1="134.5" y1="353.5" x2="134.5" y2="356.5" stroke="#666666" stroke-width="1"/>
<line x1="149.5" y1="353.5" x2="149.5" y2="356.5" stroke="#666666" stroke-width="1"/>
<line x1="164.5" y1="353.5" x2="164.5" y2="359.5" stroke="#666666" stroke-width="1"/>
<line x1="178.5" y1="353.5" x2="178.5" y2="356.5" stroke="#666666" stroke-width="1"/>
<line x1="193.5" y1="353.5" x2="193.5" y2="356.5" stroke="#666666" stroke-width="1"/>
<line x1="208.5" y1="353.5" x2="208.5" y2="356.5" stroke="#666666" stroke-width="1"/>
<line x1="222.5" y1="353.5" x2="222.5" y2="359.5" stroke="#666666" stroke-width="1"/>
<line x1="237.5" y1="353.5" x2="237.5" y2="356.5" stroke="#666666" stroke-width="1"/>
<line x1="252.5" y1="353.5" x2="252.5" y2="356.5" stroke="#666666" stroke-width="1"/>
<line x1="266.5" y1="353.5" x2="266.5" y2="356.5" stroke="#666666" stroke-width="1"/>
<line x1="281.5" y1="353.5" x2="281.5" y2="359.5" stroke="#666666" stroke-width="1"/>
<line x1="296.5" y1="353.5" x2="296.5" y2="356.5" stroke="#666666" stroke-width="1"/>
<line x1="311.5" y1="353.5" x2="311.5" y2="356.5" stroke="#666666" stroke-width="1"/>
<line x1="325.5" y1="353.5" x2="325.5" y2="356.5" stroke="#666666" stroke-width="1"/>
<line x1="340.5" y1="353.5" x2="340.5" y2="359.5" stroke="#666666" stroke-width="1"/>
<text x="46.50" y="371.10" text-anchor="middle" class="tl t1">0</text>
<text x="105.30" y="371.10" text-anchor="middle" class="tl t1"><tspan class="h1">1</tspan></text>
<text x="164.10" y="371.10" text-anchor="middle" class="tl t1">2</text>
<text x="222.90" y="371.10" text-anchor="middle" class="tl t1">3</text>
<text x="281.70" y="371.10" text-anchor="middle" class="tl t1">4</text>
<text x="340.50" y="371.10" text-anchor="middle" class="tl t1">5</text>
<text x="46.5" y="205.10" class="pl">B (13 m u. GOK)</text>
<rect x="376.5" y="211.5" width="294.0" height="142.0" fill="none" stroke="#666666" stroke-width="1"/>
<line x1="370.5" y1="353.5" x2="376.5" y2="353.5" stroke="#666666" stroke-width="1"/>
<line x1="370.5" y1="333.5" x2="376.5" y2="333.5" stroke="#666666" stroke-width="1"/>
<line x1="370.5" y1="314.5" x2="376.5" y2="314.5" stroke="#666666" stroke-width="1"/>
<line x1="370.5" y1="294.5" x2="376.5" y2="294.5" stroke="#666666" stroke-width="1"/>
<line x1="370.5" y1="275.5" x2="376.5" y2="275.5" stroke="#666666" stroke-width="1"/>
<line x1="370.5" y1="256.5" x2="376.5" y2="256.5" stroke="#666666" stroke-width="1"/>
<line x1="370.5" y1="236.5" x2="376.5" y2="236.5" stroke="#666666" stroke-width="1"/>
<line x1="370.5" y1="217.5" x2="376.5" y2="217.5" stroke="#666666" stroke-width="1"/>
<text x="367.20" y="358.00" text-anchor="end" class="tl t1">0</text>
<text x="369.40" y="338.00" text-anchor="end" class="tl t1"><tspan class="h1">1</tspan></text>
<text x="367.20" y="319.00" text-anchor="end" class="tl t1">2</text>
<text x="367.20" y="299.00" text-anchor="end" class="tl t1">3</text>
<text x="367.20" y="280.00" text-anchor="end" class="tl t1">4</text>
<text x="367.20" y="261.00" text-anchor="end" class="tl t1">5</text>
<text x="367.20" y="241.00" text-anchor="end" class="tl t1">6</text>
<text x="367.20" y="222.00" text-anchor="end" class="tl t1">7</text>
<line x1="376.5" y1="353.5" x2="376.5" y2="359.5" stroke="#666666" stroke-width="1"/>
<line x1="391.5" y1="353.5" x2="391.5" y2="356.5" stroke="#666666" stroke-width="1"/>
<line x1="405.5" y1="353.5" x2="405.5" y2="356.5" stroke="#666666" stroke-width="1"/>
<line x1="420.5" y1="353.5" x2="420.5" y2="356.5" stroke="#666666" stroke-width="1"/>
<line x1="435.5" y1="353.5" x2="435.5" y2="359.5" stroke="#666666" stroke-width="1"/>
<line x1="450.5" y1="353.5" x2="450.5" y2="356.5" stroke="#666666" stroke-width="1"/>
<line x1="464.5" y1="353.5" x2="464.5" y2="356.5" stroke="#666666" stroke-width="1"/>
<line x1="479.5" y1="353.5" x2="479.5" y2="356.5" stroke="#666666" stroke-width="1"/>
<line x1="494.5" y1="353.5" x2="494.5" y2="359.5" stroke="#666666" stroke-width="1"/>
<line x1="508.5" y1="353.5" x2="508.5" y2="356.5" stroke="#666666" stroke-width="1"/>
<line x1="523.5" y1="353.5" x2="523.5" y2="356.5" stroke="#666666" stroke-width="1"/>
<line x1="538.5" y1="353.5" x2="538.5" y2="356.5" stroke="#666666" stroke-width="1"/>
<line x1="552.5" y1="353.5" x2="552.5" y2="359.5" stroke="#666666" stroke-width="1"/>
<line x1="567.5" y1="353.5" x2="567.5" y2="356.5" stroke="#666666" stroke-width="1"/>
<line x1="582.5" y1="353.5" x2="582.5" y2="356.5" stroke="#666666" stroke-width="1"/>
<line x1="596.5" y1="353.5" x2="596.5" y2="356.5" stroke="#666666" stroke-width="1"/>
<line x1="611.5" y1="353.5" x2="611.5" y2="359.5" stroke="#666666" stroke-width="1"/>
<line x1="626.5" y1="353.5" x2="626.5" y2="356.5" stroke="#666666" stroke-width="1"/>
<line x1="641.5" y1="353.5" x2="641.5" y2="356.5" stroke="#666666" stroke-width="1"/>
<line x1="655.5" y1="353.5" x2="655.5" y2="356.5" stroke="#666666" stroke-width="1"/>
<line x1="670.5" y1="353.5" x2="670.5" y2="359.5" stroke="#666666" stroke-width="1"/>
<text x="376.50" y="371.10" text-anchor="middle" class="tl t1">0</text>
<text x="435.30" y="371.10" text-anchor="middle" class="tl t1"><tspan class="h1">1</tspan></text>
<text x="494.10" y="371.10" text-anchor="middle" class="tl t1">2</text>
<text x="552.90" y="371.10" text-anchor="middle" class="tl t1">3</text>
<text x="611.70" y="371.10" text-anchor="middle" class="tl t1">4</text>
<text x="670.50" y="371.10" text-anchor="middle" class="tl t1">5</text>
<text x="376.5" y="205.10" class="pl">B (13 m u. GOK)</text>
<text x="20.3" y="282.50" transform="rotate(-90 20.3 282.50)" text-anchor="middle" class="pl">Δ T [K]</text>
<rect x="46.5" y="394.5" width="294.0" height="142.0" fill="none" stroke="#666666" stroke-width="1"/>
<line x1="40.5" y1="405.5" x2="46.5" y2="405.5" stroke="#666666" stroke-width="1"/>
<line x1="40.5" y1="427.5" x2="46.5" y2="427.5" stroke="#666666" stroke-width="1"/>
<line x1="40.5" y1="449.5" x2="46.5" y2="449.5" stroke="#666666" stroke-width="1"/>
<line x1="40.5" y1="471.5" x2="46.5" y2="471.5" stroke="#666666" stroke-width="1"/>
<line x1="40.5" y1="492.5" x2="46.5" y2="492.5" stroke="#666666" stroke-width="1"/>
<line x1="40.5" y1="514.5" x2="46.5" y2="514.5" stroke="#666666" stroke-width="1"/>
<line x1="40.5" y1="536.5" x2="46.5" y2="536.5" stroke="#666666" stroke-width="1"/>
<text x="37.20" y="410.40" text-anchor="end" class="tl t1">0</text>
<text x="39.40" y="453.93" text-anchor="end" class="tl t1">−<tspan class="h1">1</tspan></text>
<text x="37.20" y="497.46" text-anchor="end" class="tl t1">−2</text>
<text x="37.20" y="540.99" text-anchor="end" class="tl t1">−3</text>
<line x1="46.5" y1="536.5" x2="46.5" y2="542.5" stroke="#666666" stroke-width="1"/>
<line x1="61.5" y1="536.5" x2="61.5" y2="539.5" stroke="#666666" stroke-width="1"/>
<line x1="75.5" y1="536.5" x2="75.5" y2="539.5" stroke="#666666" stroke-width="1"/>
<line x1="90.5" y1="536.5" x2="90.5" y2="539.5" stroke="#666666" stroke-width="1"/>
<line x1="105.5" y1="536.5" x2="105.5" y2="542.5" stroke="#666666" stroke-width="1"/>
<line x1="120.5" y1="536.5" x2="120.5" y2="539.5" stroke="#666666" stroke-width="1"/>
<line x1="134.5" y1="536.5" x2="134.5" y2="539.5" stroke="#666666" stroke-width="1"/>
<line x1="149.5" y1="536.5" x2="149.5" y2="539.5" stroke="#666666" stroke-width="1"/>
<line x1="164.5" y1="536.5" x2="164.5" y2="542.5" stroke="#666666" stroke-width="1"/>
<line x1="178.5" y1="536.5" x2="178.5" y2="539.5" stroke="#666666" stroke-width="1"/>
<line x1="193.5" y1="536.5" x2="193.5" y2="539.5" stroke="#666666" stroke-width="1"/>
<line x1="208.5" y1="536.5" x2="208.5" y2="539.5" stroke="#666666" stroke-width="1"/>
<line x1="222.5" y1="536.5" x2="222.5" y2="542.5" stroke="#666666" stroke-width="1"/>
<line x1="237.5" y1="536.5" x2="237.5" y2="539.5" stroke="#666666" stroke-width="1"/>
<line x1="252.5" y1="536.5" x2="252.5" y2="539.5" stroke="#666666" stroke-width="1"/>
<line x1="266.5" y1="536.5" x2="266.5" y2="539.5" stroke="#666666" stroke-width="1"/>
<line x1="281.5" y1="536.5" x2="281.5" y2="542.5" stroke="#666666" stroke-width="1"/>
<line x1="296.5" y1="536.5" x2="296.5" y2="539.5" stroke="#666666" stroke-width="1"/>
<line x1="311.5" y1="536.5" x2="311.5" y2="539.5" stroke="#666666" stroke-width="1"/>
<line x1="325.5" y1="536.5" x2="325.5" y2="539.5" stroke="#666666" stroke-width="1"/>
<line x1="340.5" y1="536.5" x2="340.5" y2="542.5" stroke="#666666" stroke-width="1"/>
<text x="46.50" y="554.10" text-anchor="middle" class="tl t1">0</text>
<text x="105.30" y="554.10" text-anchor="middle" class="tl t1"><tspan class="h1">1</tspan></text>
<text x="164.10" y="554.10" text-anchor="middle" class="tl t1">2</text>
<text x="222.90" y="554.10" text-anchor="middle" class="tl t1">3</text>
<text x="281.70" y="554.10" text-anchor="middle" class="tl t1">4</text>
<text x="340.50" y="554.10" text-anchor="middle" class="tl t1">5</text>
<text x="46.5" y="388.10" class="pl">C (12 m u. GOK)</text>
<rect x="376.5" y="394.5" width="294.0" height="142.0" fill="none" stroke="#666666" stroke-width="1"/>
<line x1="370.5" y1="405.5" x2="376.5" y2="405.5" stroke="#666666" stroke-width="1"/>
<line x1="370.5" y1="427.5" x2="376.5" y2="427.5" stroke="#666666" stroke-width="1"/>
<line x1="370.5" y1="449.5" x2="376.5" y2="449.5" stroke="#666666" stroke-width="1"/>
<line x1="370.5" y1="471.5" x2="376.5" y2="471.5" stroke="#666666" stroke-width="1"/>
<line x1="370.5" y1="492.5" x2="376.5" y2="492.5" stroke="#666666" stroke-width="1"/>
<line x1="370.5" y1="514.5" x2="376.5" y2="514.5" stroke="#666666" stroke-width="1"/>
<line x1="370.5" y1="536.5" x2="376.5" y2="536.5" stroke="#666666" stroke-width="1"/>
<text x="367.20" y="410.40" text-anchor="end" class="tl t1">0</text>
<text x="369.40" y="453.93" text-anchor="end" class="tl t1">−<tspan class="h1">1</tspan></text>
<text x="367.20" y="497.46" text-anchor="end" class="tl t1">−2</text>
<text x="367.20" y="540.99" text-anchor="end" class="tl t1">−3</text>
<line x1="376.5" y1="536.5" x2="376.5" y2="542.5" stroke="#666666" stroke-width="1"/>
<line x1="391.5" y1="536.5" x2="391.5" y2="539.5" stroke="#666666" stroke-width="1"/>
<line x1="405.5" y1="536.5" x2="405.5" y2="539.5" stroke="#666666" stroke-width="1"/>
<line x1="420.5" y1="536.5" x2="420.5" y2="539.5" stroke="#666666" stroke-width="1"/>
<line x1="435.5" y1="536.5" x2="435.5" y2="542.5" stroke="#666666" stroke-width="1"/>
<line x1="450.5" y1="536.5" x2="450.5" y2="539.5" stroke="#666666" stroke-width="1"/>
<line x1="464.5" y1="536.5" x2="464.5" y2="539.5" stroke="#666666" stroke-width="1"/>
<line x1="479.5" y1="536.5" x2="479.5" y2="539.5" stroke="#666666" stroke-width="1"/>
<line x1="494.5" y1="536.5" x2="494.5" y2="542.5" stroke="#666666" stroke-width="1"/>
<line x1="508.5" y1="536.5" x2="508.5" y2="539.5" stroke="#666666" stroke-width="1"/>
<line x1="523.5" y1="536.5" x2="523.5" y2="539.5" stroke="#666666" stroke-width="1"/>
<line x1="538.5" y1="536.5" x2="538.5" y2="539.5" stroke="#666666" stroke-width="1"/>
<line x1="552.5" y1="536.5" x2="552.5" y2="542.5" stroke="#666666" stroke-width="1"/>
<line x1="567.5" y1="536.5" x2="567.5" y2="539.5" stroke="#666666" stroke-width="1"/>
<line x1="582.5" y1="536.5" x2="582.5" y2="539.5" stroke="#666666" stroke-width="1"/>
<line x1="596.5" y1="536.5" x2="596.5" y2="539.5" stroke="#666666" stroke-width="1"/>
<line x1="611.5" y1="536.5" x2="611.5" y2="542.5" stroke="#666666" stroke-width="1"/>
<line x1="626.5" y1="536.5" x2="626.5" y2="539.5" stroke="#666666" stroke-width="1"/>
<line x1="641.5" y1="536.5" x2="641.5" y2="539.5" stroke="#666666" stroke-width="1"/>
<line x1="655.5" y1="536.5" x2="655.5" y2="539.5" stroke="#666666" stroke-width="1"/>
<line x1="670.5" y1="536.5" x2="670.5" y2="542.5" stroke="#666666" stroke-width="1"/>
<text x="376.50" y="554.10" text-anchor="middle" class="tl t1">0</text>
<text x="435.30" y="554.10" text-anchor="middle" class="tl t1"><tspan class="h1">1</tspan></text>
<text x="494.10" y="554.10" text-anchor="middle" class="tl t1">2</text>
<text x="552.90" y="554.10" text-anchor="middle" class="tl t1">3</text>
<text x="611.70" y="554.10" text-anchor="middle" class="tl t1">4</text>
<text x="670.50" y="554.10" text-anchor="middle" class="tl t1">5</text>
<text x="376.5" y="388.10" class="pl">C (12 m u. GOK)</text>
<text x="20.3" y="465.50" transform="rotate(-90 20.3 465.50)" text-anchor="middle" class="pl">Δ T [K]</text>
<rect x="46.5" y="577.5" width="294.0" height="142.0" fill="none" stroke="#666666" stroke-width="1"/>
<line x1="40.5" y1="584.5" x2="46.5" y2="584.5" stroke="#666666" stroke-width="1"/>
<line x1="40.5" y1="605.5" x2="46.5" y2="605.5" stroke="#666666" stroke-width="1"/>
<line x1="40.5" y1="626.5" x2="46.5" y2="626.5" stroke="#666666" stroke-width="1"/>
<line x1="40.5" y1="646.5" x2="46.5" y2="646.5" stroke="#666666" stroke-width="1"/>
<line x1="40.5" y1="667.5" x2="46.5" y2="667.5" stroke="#666666" stroke-width="1"/>
<line x1="40.5" y1="688.5" x2="46.5" y2="688.5" stroke="#666666" stroke-width="1"/>
<line x1="40.5" y1="708.5" x2="46.5" y2="708.5" stroke="#666666" stroke-width="1"/>
<text x="37.20" y="589.00" text-anchor="end" class="tl t1">3</text>
<text x="37.20" y="610.00" text-anchor="end" class="tl t1">2</text>
<text x="39.40" y="631.00" text-anchor="end" class="tl t1"><tspan class="h1">1</tspan></text>
<text x="37.20" y="651.00" text-anchor="end" class="tl t1">0</text>
<text x="39.40" y="672.00" text-anchor="end" class="tl t1">−<tspan class="h1">1</tspan></text>
<text x="37.20" y="693.00" text-anchor="end" class="tl t1">−2</text>
<text x="37.20" y="713.00" text-anchor="end" class="tl t1">−3</text>
<line x1="46.5" y1="719.5" x2="46.5" y2="725.5" stroke="#666666" stroke-width="1"/>
<line x1="61.5" y1="719.5" x2="61.5" y2="722.5" stroke="#666666" stroke-width="1"/>
<line x1="75.5" y1="719.5" x2="75.5" y2="722.5" stroke="#666666" stroke-width="1"/>
<line x1="90.5" y1="719.5" x2="90.5" y2="722.5" stroke="#666666" stroke-width="1"/>
<line x1="105.5" y1="719.5" x2="105.5" y2="725.5" stroke="#666666" stroke-width="1"/>
<line x1="120.5" y1="719.5" x2="120.5" y2="722.5" stroke="#666666" stroke-width="1"/>
<line x1="134.5" y1="719.5" x2="134.5" y2="722.5" stroke="#666666" stroke-width="1"/>
<line x1="149.5" y1="719.5" x2="149.5" y2="722.5" stroke="#666666" stroke-width="1"/>
<line x1="164.5" y1="719.5" x2="164.5" y2="725.5" stroke="#666666" stroke-width="1"/>
<line x1="178.5" y1="719.5" x2="178.5" y2="722.5" stroke="#666666" stroke-width="1"/>
<line x1="193.5" y1="719.5" x2="193.5" y2="722.5" stroke="#666666" stroke-width="1"/>
<line x1="208.5" y1="719.5" x2="208.5" y2="722.5" stroke="#666666" stroke-width="1"/>
<line x1="222.5" y1="719.5" x2="222.5" y2="725.5" stroke="#666666" stroke-width="1"/>
<line x1="237.5" y1="719.5" x2="237.5" y2="722.5" stroke="#666666" stroke-width="1"/>
<line x1="252.5" y1="719.5" x2="252.5" y2="722.5" stroke="#666666" stroke-width="1"/>
<line x1="266.5" y1="719.5" x2="266.5" y2="722.5" stroke="#666666" stroke-width="1"/>
<line x1="281.5" y1="719.5" x2="281.5" y2="725.5" stroke="#666666" stroke-width="1"/>
<line x1="296.5" y1="719.5" x2="296.5" y2="722.5" stroke="#666666" stroke-width="1"/>
<line x1="311.5" y1="719.5" x2="311.5" y2="722.5" stroke="#666666" stroke-width="1"/>
<line x1="325.5" y1="719.5" x2="325.5" y2="722.5" stroke="#666666" stroke-width="1"/>
<line x1="340.5" y1="719.5" x2="340.5" y2="725.5" stroke="#666666" stroke-width="1"/>
<text x="46.50" y="737.10" text-anchor="middle" class="tl t1">0</text>
<text x="105.30" y="737.10" text-anchor="middle" class="tl t1"><tspan class="h1">1</tspan></text>
<text x="164.10" y="737.10" text-anchor="middle" class="tl t1">2</text>
<text x="222.90" y="737.10" text-anchor="middle" class="tl t1">3</text>
<text x="281.70" y="737.10" text-anchor="middle" class="tl t1">4</text>
<text x="340.50" y="737.10" text-anchor="middle" class="tl t1">5</text>
<text x="46.5" y="571.10" class="pl">D (12 m u. GOK)</text>
<rect x="376.5" y="577.5" width="294.0" height="142.0" fill="none" stroke="#666666" stroke-width="1"/>
<line x1="370.5" y1="584.5" x2="376.5" y2="584.5" stroke="#666666" stroke-width="1"/>
<line x1="370.5" y1="605.5" x2="376.5" y2="605.5" stroke="#666666" stroke-width="1"/>
<line x1="370.5" y1="626.5" x2="376.5" y2="626.5" stroke="#666666" stroke-width="1"/>
<line x1="370.5" y1="646.5" x2="376.5" y2="646.5" stroke="#666666" stroke-width="1"/>
<line x1="370.5" y1="667.5" x2="376.5" y2="667.5" stroke="#666666" stroke-width="1"/>
<line x1="370.5" y1="688.5" x2="376.5" y2="688.5" stroke="#666666" stroke-width="1"/>
<line x1="370.5" y1="708.5" x2="376.5" y2="708.5" stroke="#666666" stroke-width="1"/>
<text x="367.20" y="589.00" text-anchor="end" class="tl t1">3</text>
<text x="367.20" y="610.00" text-anchor="end" class="tl t1">2</text>
<text x="369.40" y="631.00" text-anchor="end" class="tl t1"><tspan class="h1">1</tspan></text>
<text x="367.20" y="651.00" text-anchor="end" class="tl t1">0</text>
<text x="369.40" y="672.00" text-anchor="end" class="tl t1">−<tspan class="h1">1</tspan></text>
<text x="367.20" y="693.00" text-anchor="end" class="tl t1">−2</text>
<text x="367.20" y="713.00" text-anchor="end" class="tl t1">−3</text>
<line x1="376.5" y1="719.5" x2="376.5" y2="725.5" stroke="#666666" stroke-width="1"/>
<line x1="391.5" y1="719.5" x2="391.5" y2="722.5" stroke="#666666" stroke-width="1"/>
<line x1="405.5" y1="719.5" x2="405.5" y2="722.5" stroke="#666666" stroke-width="1"/>
<line x1="420.5" y1="719.5" x2="420.5" y2="722.5" stroke="#666666" stroke-width="1"/>
<line x1="435.5" y1="719.5" x2="435.5" y2="725.5" stroke="#666666" stroke-width="1"/>
<line x1="450.5" y1="719.5" x2="450.5" y2="722.5" stroke="#666666" stroke-width="1"/>
<line x1="464.5" y1="719.5" x2="464.5" y2="722.5" stroke="#666666" stroke-width="1"/>
<line x1="479.5" y1="719.5" x2="479.5" y2="722.5" stroke="#666666" stroke-width="1"/>
<line x1="494.5" y1="719.5" x2="494.5" y2="725.5" stroke="#666666" stroke-width="1"/>
<line x1="508.5" y1="719.5" x2="508.5" y2="722.5" stroke="#666666" stroke-width="1"/>
<line x1="523.5" y1="719.5" x2="523.5" y2="722.5" stroke="#666666" stroke-width="1"/>
<line x1="538.5" y1="719.5" x2="538.5" y2="722.5" stroke="#666666" stroke-width="1"/>
<line x1="552.5" y1="719.5" x2="552.5" y2="725.5" stroke="#666666" stroke-width="1"/>
<line x1="567.5" y1="719.5" x2="567.5" y2="722.5" stroke="#666666" stroke-width="1"/>
<line x1="582.5" y1="719.5" x2="582.5" y2="722.5" stroke="#666666" stroke-width="1"/>
<line x1="596.5" y1="719.5" x2="596.5" y2="722.5" stroke="#666666" stroke-width="1"/>
<line x1="611.5" y1="719.5" x2="611.5" y2="725.5" stroke="#666666" stroke-width="1"/>
<line x1="626.5" y1="719.5" x2="626.5" y2="722.5" stroke="#666666" stroke-width="1"/>
<line x1="641.5" y1="719.5" x2="641.5" y2="722.5" stroke="#666666" stroke-width="1"/>
<line x1="655.5" y1="719.5" x2="655.5" y2="722.5" stroke="#666666" stroke-width="1"/>
<line x1="670.5" y1="719.5" x2="670.5" y2="725.5" stroke="#666666" stroke-width="1"/>
<text x="376.50" y="737.10" text-anchor="middle" class="tl t1">0</text>
<text x="435.30" y="737.10" text-anchor="middle" class="tl t1"><tspan class="h1">1</tspan></text>
<text x="494.10" y="737.10" text-anchor="middle" class="tl t1">2</text>
<text x="552.90" y="737.10" text-anchor="middle" class="tl t1">3</text>
<text x="611.70" y="737.10" text-anchor="middle" class="tl t1">4</text>
<text x="670.50" y="737.10" text-anchor="middle" class="tl t1">5</text>
<text x="376.5" y="571.10" class="pl">D (12 m u. GOK)</text>
<text x="20.3" y="648.50" transform="rotate(-90 20.3 648.50)" text-anchor="middle" class="pl">Δ T [K]</text>
<text x="193.5" y="22.6" text-anchor="middle" class="tt">TOM</text>
<text x="522.5" y="22.6" text-anchor="middle" class="tt">FEFLOW</text>
<text x="193.50" y="749.6" text-anchor="middle" class="pl">Jahre</text>
<text x="523.50" y="749.6" text-anchor="middle" class="pl">Jahre</text>
<line x1="134.7" y1="768.3" x2="158.2" y2="768.3" stroke="#440154" stroke-width="1.3"/>
<text x="164.7" y="772.4" class="tl t1">25 m</text>
<line x1="207.6" y1="768.3" x2="231.1" y2="768.3" stroke="#414487" stroke-width="1.3"/>
<text x="237.6" y="772.4" class="tl t1">50 m</text>
<line x1="280.0" y1="768.3" x2="303.5" y2="768.3" stroke="#177b92" stroke-width="1.3"/>
<text x="310.0" y="772.4" class="tl t1"><tspan class="h1">1</tspan>00 m</text>
<line x1="357.7" y1="768.3" x2="381.2" y2="768.3" stroke="#1ba17f" stroke-width="1.3"/>
<text x="387.7" y="772.4" class="tl t1">250 m</text>
<line x1="436.5" y1="768.3" x2="460.0" y2="768.3" stroke="#6cc070" stroke-width="1.3"/>
<text x="466.5" y="772.4" class="tl t1">500 m</text>
<line x1="515.4" y1="768.3" x2="538.9" y2="768.3" stroke="#f3e430" stroke-width="1.3"/>
<text x="545.4" y="772.4" class="tl t1"><tspan class="h1">1</tspan>000 m</text>
<path d="M780 0L575 0L575 1080Q510 1020 405 960Q300 900 205 870L205 1070Q360 1135 478 1230Q596 1325 640 1409L780 1409Z" transform="translate(32.99 138.33) scale(0.005615 -0.005615)" fill="#1a1a1a"/>
<path d="M780 0L575 0L575 1080Q510 1020 405 960Q300 900 205 870L205 1070Q360 1135 478 1230Q596 1325 640 1409L780 1409Z" transform="translate(102.10 188.10) scale(0.005615 -0.005615)" fill="#1a1a1a"/>
<path d="M780 0L575 0L575 1080Q510 1020 405 960Q300 900 205 870L205 1070Q360 1135 478 1230Q596 1325 640 1409L780 1409Z" transform="translate(362.99 138.33) scale(0.005615 -0.005615)" fill="#1a1a1a"/>
<path d="M780 0L575 0L575 1080Q510 1020 405 960Q300 900 205 870L205 1070Q360 1135 478 1230Q596 1325 640 1409L780 1409Z" transform="translate(432.10 188.10) scale(0.005615 -0.005615)" fill="#1a1a1a"/>
<path d="M780 0L575 0L575 1080Q510 1020 405 960Q300 900 205 870L205 1070Q360 1135 478 1230Q596 1325 640 1409L780 1409Z" transform="translate(32.99 338.00) scale(0.005615 -0.005615)" fill="#1a1a1a"/>
<path d="M780 0L575 0L575 1080Q510 1020 405 960Q300 900 205 870L205 1070Q360 1135 478 1230Q596 1325 640 1409L780 1409Z" transform="translate(102.10 371.10) scale(0.005615 -0.005615)" fill="#1a1a1a"/>
<path d="M780 0L575 0L575 1080Q510 1020 405 960Q300 900 205 870L205 1070Q360 1135 478 1230Q596 1325 640 1409L780 1409Z" transform="translate(362.99 338.00) scale(0.005615 -0.005615)" fill="#1a1a1a"/>
<path d="M780 0L575 0L575 1080Q510 1020 405 960Q300 900 205 870L205 1070Q360 1135 478 1230Q596 1325 640 1409L780 1409Z" transform="translate(432.10 371.10) scale(0.005615 -0.005615)" fill="#1a1a1a"/>
<path d="M780 0L575 0L575 1080Q510 1020 405 960Q300 900 205 870L205 1070Q360 1135 478 1230Q596 1325 640 1409L780 1409Z" transform="translate(32.99 453.93) scale(0.005615 -0.005615)" fill="#1a1a1a"/>
<path d="M780 0L575 0L575 1080Q510 1020 405 960Q300 900 205 870L205 1070Q360 1135 478 1230Q596 1325 640 1409L780 1409Z" transform="translate(102.10 554.10) scale(0.005615 -0.005615)" fill="#1a1a1a"/>
<path d="M780 0L575 0L575 1080Q510 1020 405 960Q300 900 205 870L205 1070Q360 1135 478 1230Q596 1325 640 1409L780 1409Z" transform="translate(362.99 453.93) scale(0.005615 -0.005615)" fill="#1a1a1a"/>
<path d="M780 0L575 0L575 1080Q510 1020 405 960Q300 900 205 870L205 1070Q360 1135 478 1230Q596 1325 640 1409L780 1409Z" transform="translate(432.10 554.10) scale(0.005615 -0.005615)" fill="#1a1a1a"/>
<path d="M780 0L575 0L575 1080Q510 1020 405 960Q300 900 205 870L205 1070Q360 1135 478 1230Q596 1325 640 1409L780 1409Z" transform="translate(32.99 631.00) scale(0.005615 -0.005615)" fill="#1a1a1a"/>
<path d="M780 0L575 0L575 1080Q510 1020 405 960Q300 900 205 870L205 1070Q360 1135 478 1230Q596 1325 640 1409L780 1409Z" transform="translate(32.99 672.00) scale(0.005615 -0.005615)" fill="#1a1a1a"/>
<path d="M780 0L575 0L575 1080Q510 1020 405 960Q300 900 205 870L205 1070Q360 1135 478 1230Q596 1325 640 1409L780 1409Z" transform="translate(102.10 737.10) scale(0.005615 -0.005615)" fill="#1a1a1a"/>
<path d="M780 0L575 0L575 1080Q510 1020 405 960Q300 900 205 870L205 1070Q360 1135 478 1230Q596 1325 640 1409L780 1409Z" transform="translate(362.99 631.00) scale(0.005615 -0.005615)" fill="#1a1a1a"/>
<path d="M780 0L575 0L575 1080Q510 1020 405 960Q300 900 205 870L205 1070Q360 1135 478 1230Q596 1325 640 1409L780 1409Z" transform="translate(362.99 672.00) scale(0.005615 -0.005615)" fill="#1a1a1a"/>
<path d="M780 0L575 0L575 1080Q510 1020 405 960Q300 900 205 870L205 1070Q360 1135 478 1230Q596 1325 640 1409L780 1409Z" transform="translate(432.10 737.10) scale(0.005615 -0.005615)" fill="#1a1a1a"/>
<path d="M780 0L575 0L575 1080Q510 1020 405 960Q300 900 205 870L205 1070Q360 1135 478 1230Q596 1325 640 1409L780 1409Z" transform="translate(310.00 772.40) scale(0.005615 -0.005615)" fill="#1a1a1a"/>
<path d="M780 0L575 0L575 1080Q510 1020 405 960Q300 900 205 870L205 1070Q360 1135 478 1230Q596 1325 640 1409L780 1409Z" transform="translate(545.40 772.40) scale(0.005615 -0.005615)" fill="#1a1a1a"/>
</g>
<line x1="0" y1="0.5" x2="685" y2="0.5" stroke="#777" stroke-width="1"/>
<line x1="0.5" y1="0" x2="0.5" y2="785" stroke="#3c3c3c" stroke-width="1"/>
<line x1="684.5" y1="0" x2="684.5" y2="785" stroke="#444" stroke-width="1"/>
<line x1="0" y1="784.5" x2="685" y2="784.5" stroke="#3c3c3c" stroke-width="1"/>
</svg>
</body></html>
